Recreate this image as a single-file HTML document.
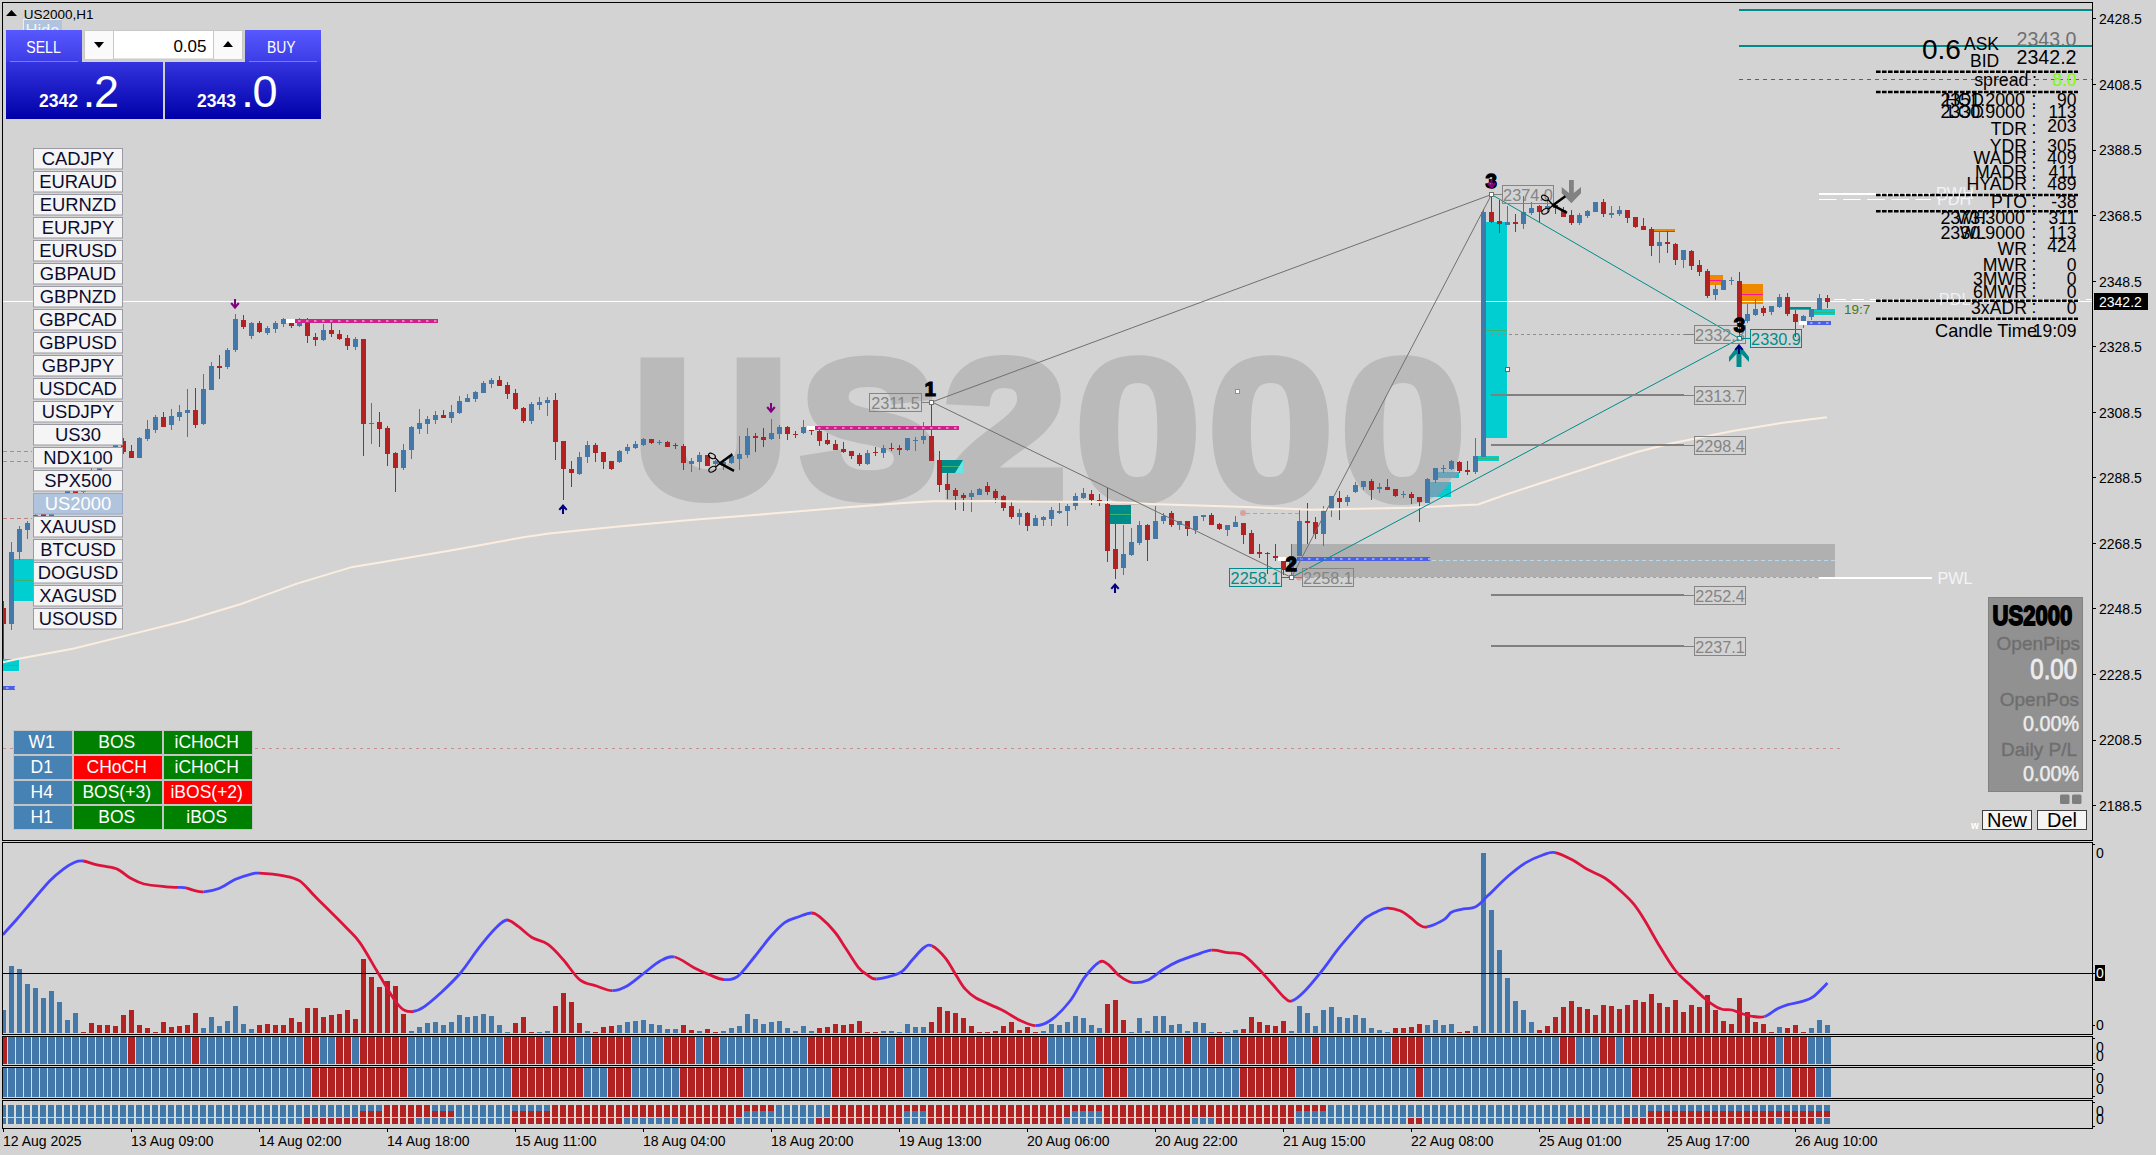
<!DOCTYPE html>
<html lang="en"><head><meta charset="utf-8"><title>US2000,H1</title>
<style>html,body{margin:0;padding:0;background:#d3d3d3;}body{width:2156px;height:1155px;overflow:hidden;}svg{display:block;font-family:'Liberation Sans', sans-serif;}text{white-space:pre;}</style>
</head><body>
<svg width="2156" height="1155" viewBox="0 0 2156 1155">
<defs><linearGradient id="gTop" x1="0" y1="0" x2="0" y2="1"><stop offset="0" stop-color="#5858ff"/><stop offset="1" stop-color="#3c3ce6"/></linearGradient><linearGradient id="gBot" x1="0" y1="0" x2="0" y2="1"><stop offset="0" stop-color="#3434e0"/><stop offset="1" stop-color="#0000a8"/></linearGradient><clipPath id="clipMain"><rect x="3" y="3" width="2089" height="837"/></clipPath><clipPath id="clipInd1"><rect x="3" y="843" width="2089" height="191"/></clipPath></defs>
<rect x="0" y="0" width="2156" height="1155" fill="#d3d3d3"/>
<g clip-path="url(#clipMain)">
<text font-weight="bold" fill="#bababa" stroke="#bababa" stroke-linejoin="miter"><tspan x="634.4" y="495" font-size="191" stroke-width="12" textLength="151.97" lengthAdjust="spacingAndGlyphs">U</tspan><tspan x="801.5" y="495" font-size="191" stroke-width="12" textLength="135.04" lengthAdjust="spacingAndGlyphs">S</tspan><tspan x="945" y="495" font-size="191" stroke-width="12" textLength="119.79" lengthAdjust="spacingAndGlyphs">2</tspan><tspan x="1074" y="499.9" font-size="202.84" stroke-width="6.11" textLength="127.93" lengthAdjust="spacingAndGlyphs">0</tspan><tspan x="1206.7" y="499.9" font-size="202.84" stroke-width="6.11" textLength="127.93" lengthAdjust="spacingAndGlyphs">0</tspan><tspan x="1339.3" y="499.9" font-size="202.84" stroke-width="6.11" textLength="127.93" lengthAdjust="spacingAndGlyphs">0</tspan></text>
<g shape-rendering="crispEdges">
<rect x="1292" y="544" width="543" height="33" fill="#b0b0b0"/>
<rect x="14" y="559" width="20" height="42" fill="#00ced1"/>
<rect x="14" y="580" width="20" height="1" fill="#3cb371"/>
<rect x="3" y="659" width="16" height="12" fill="#00ced1"/>
<rect x="3" y="665" width="16" height="1" fill="#3cb371"/>
<rect x="942" y="460" width="21" height="13" fill="#008b8b"/>
<rect x="942" y="466" width="21" height="1" fill="#3cb371"/>
<rect x="1110" y="505" width="21" height="19" fill="#008b8b"/>
<rect x="1110" y="514" width="21" height="1" fill="#3cb371"/>
<rect x="1430" y="482" width="21" height="15" fill="#00ced1"/>
<rect x="1430" y="489" width="21" height="1" fill="#3cb371"/>
<rect x="1438" y="472" width="21" height="6" fill="#00ced1"/>
<rect x="1438" y="475" width="21" height="1" fill="#3cb371"/>
<rect x="1478" y="456" width="21" height="5" fill="#00ced1"/>
<rect x="1478" y="458" width="21" height="1" fill="#3cb371"/>
<rect x="1486" y="222" width="21" height="216" fill="#00ced1"/>
<rect x="1486" y="330" width="21" height="1" fill="#3cb371"/>
<rect x="1814" y="309" width="21" height="6" fill="#00ced1"/>
<rect x="1814" y="312" width="21" height="1" fill="#3cb371"/>
<rect x="1790" y="307" width="21" height="3" fill="#008b8b"/>
<rect x="1790" y="309" width="21" height="1" fill="#3cb371"/>
<rect x="1654" y="229" width="21" height="2" fill="#ee8800"/>
<rect x="1654" y="231" width="21" height="1" fill="#ff1493"/>
<rect x="1710" y="275" width="13" height="10" fill="#ee8800"/>
<rect x="1710" y="280" width="13" height="1" fill="#ff1493"/>
<rect x="1742" y="284" width="21" height="20" fill="#ee8800"/>
<rect x="1742" y="294" width="21" height="1" fill="#ff1493"/>
</g>
<path d="M955 473L963 460V473Z" fill="#66e6e6"/>
<path d="M1430 482H1451L1437 497H1430Z" fill="#6aa5ba"/>
<path d="M1438 472H1459L1455 478H1438Z" fill="#6aa5ba"/>
<g shape-rendering="crispEdges">
<rect x="3" y="301" width="2089" height="1" fill="#fff"/>
</g>
<line x1="3" y1="748.5" x2="1843" y2="748.5" stroke="#c89090" stroke-width="1" stroke-dasharray="3 4"/>
<line x1="3" y1="451.5" x2="32" y2="451.5" stroke="#c08080" stroke-width="1" stroke-dasharray="4 3"/>
<line x1="3" y1="461.5" x2="32" y2="461.5" stroke="#c08080" stroke-width="1" stroke-dasharray="4 3"/>
<line x1="3" y1="518.5" x2="32" y2="518.5" stroke="#c08080" stroke-width="1" stroke-dasharray="4 3"/>
<line x1="1292" y1="560.5" x2="1835" y2="560.5" stroke="#b8d8f0" stroke-width="1" stroke-dasharray="4 3"/>
<line x1="1299" y1="577.5" x2="1842" y2="577.5" stroke="#c89090" stroke-width="1" stroke-dasharray="3 3"/>
<line x1="1246" y1="513.5" x2="1299" y2="513.5" stroke="#d09898" stroke-width="1" stroke-dasharray="4 3"/>
<circle cx="1243" cy="513" r="3" fill="#d8a0a0"/>
<circle cx="1299" cy="577.5" r="3" fill="#d8a0a0"/>
<line x1="1491" y1="334.5" x2="1694" y2="334.5" stroke="#8c8c8c" stroke-width="1" stroke-dasharray="3 3"/>
<g shape-rendering="crispEdges">
<path d="M11 542v88M19 526v34M27 521v18M35 512v14M51 500v20M59 494v13M67 486v14M83 476v19M91 468v14M99 458v16M107 448v15M115 438v16M139 437v21M147 420v21M155 415v18M171 409v21M179 405v16M187 389v48M203 374v51M211 362v28M227 348v21M235 314v38M251 322v17M267 326v9M275 321v12M283 318v9M299 318v9M323 324v17M355 337v13M371 403v41M403 444v26M411 426v33M419 409v25M427 416v18M435 411v13M451 405v18M459 396v18M467 394v8M475 391v11M483 381v12M491 378v10M531 402v22M539 397v13M547 397v19M579 452v23M587 441v22M619 450v13M627 444v10M635 441v8M643 438v8M659 440v5M691 458v14M699 452v18M715 460v6M723 461v9M731 453v11M739 436v34M747 428v30M771 419v21M779 425v14M803 420v14M867 450v15M883 445v13M907 438v13M915 437v14M923 422v22M971 490v22M979 488v7M1019 509v16M1035 515v11M1043 516v10M1051 507v19M1059 503v11M1067 504v22M1075 493v17M1083 488v11M1123 525v50M1131 528v28M1139 521v24M1155 506v33M1163 513v11M1179 521v9M1195 516v18M1203 515v6M1227 525v11M1235 516v11M1291 544v32M1299 510v46M1323 506v40M1331 496v21M1347 495v11M1355 482v11M1363 481v9M1379 483v10M1403 491v7M1427 478v25M1435 468v15M1443 465v8M1451 460v10M1475 438v36M1483 209v248M1507 206v19M1523 196v33M1531 202v13M1547 201v11M1579 213v12M1587 210v8M1595 202v10M1611 206v12M1619 206v10M1659 231v32M1683 250v18M1715 285v15M1723 280v10M1731 277v8M1747 304v19M1755 299v17M1771 306v9M1779 294v14M1803 315v13M1811 309v11M1819 294v16" stroke="#4279aa" stroke-width="1" fill="none" transform="translate(0.5 0)"/>
<path d="M9 552h5v72h-5zM17 529h5v23h-5zM25 523h5v7h-5zM33 515h5v8h-5zM49 504h5v13h-5zM57 497h5v7h-5zM65 489h5v8h-5zM81 479h5v13h-5zM89 471h5v8h-5zM97 461h5v10h-5zM105 451h5v10h-5zM113 441h5v10h-5zM137 438h5v20h-5zM145 429h5v10h-5zM153 417h5v13h-5zM169 416h5v9h-5zM177 412h5v5h-5zM185 410h5v3h-5zM201 389h5v35h-5zM209 366h5v24h-5zM225 350h5v17h-5zM233 319h5v31h-5zM249 323h5v13h-5zM265 328h5v5h-5zM273 323h5v6h-5zM281 319h5v5h-5zM297 323h5v3h-5zM321 330h5v10h-5zM353 339h5v8h-5zM369 423h5v1h-5zM401 450h5v18h-5zM409 427h5v23h-5zM417 423h5v6h-5zM425 419h5v5h-5zM433 415h5v5h-5zM449 412h5v6h-5zM457 401h5v12h-5zM465 398h5v4h-5zM473 392h5v7h-5zM481 383h5v10h-5zM489 380h5v4h-5zM529 404h5v17h-5zM537 402h5v3h-5zM545 400h5v3h-5zM577 457h5v17h-5zM585 445h5v12h-5zM617 451h5v11h-5zM625 447h5v4h-5zM633 444h5v4h-5zM641 439h5v6h-5zM657 442h5v1h-5zM689 461h5v3h-5zM697 455h5v7h-5zM713 461h5v3h-5zM721 462h5v4h-5zM729 456h5v7h-5zM737 454h5v5h-5zM745 436h5v19h-5zM769 433h5v6h-5zM777 427h5v7h-5zM801 427h5v6h-5zM865 453h5v11h-5zM881 448h5v5h-5zM905 438h5v12h-5zM913 440h5v1h-5zM921 436h5v4h-5zM969 493h5v4h-5zM977 489h5v6h-5zM1017 513h5v4h-5zM1033 518h5v8h-5zM1041 517h5v3h-5zM1049 510h5v9h-5zM1057 511h5v2h-5zM1065 506h5v5h-5zM1073 496h5v10h-5zM1081 493h5v5h-5zM1121 554h5v14h-5zM1129 542h5v13h-5zM1137 525h5v18h-5zM1153 521h5v18h-5zM1161 516h5v5h-5zM1177 521h5v4h-5zM1193 516h5v14h-5zM1201 515h5v2h-5zM1225 525h5v5h-5zM1233 522h5v5h-5zM1289 556h5v14h-5zM1297 521h5v35h-5zM1321 511h5v23h-5zM1329 496h5v13h-5zM1345 497h5v5h-5zM1353 485h5v7h-5zM1361 481h5v6h-5zM1377 487h5v2h-5zM1401 494h5v1h-5zM1425 479h5v24h-5zM1433 468h5v12h-5zM1441 468h5v1h-5zM1449 461h5v8h-5zM1473 456h5v16h-5zM1481 212h5v245h-5zM1505 222h5v3h-5zM1521 212h5v12h-5zM1529 208h5v5h-5zM1545 206h5v3h-5zM1577 215h5v8h-5zM1585 211h5v5h-5zM1593 202h5v10h-5zM1609 213h5v2h-5zM1617 210h5v4h-5zM1657 242h5v4h-5zM1681 250h5v10h-5zM1713 289h5v6h-5zM1721 280h5v10h-5zM1729 280h5v1h-5zM1745 314h5v7h-5zM1753 309h5v6h-5zM1769 306h5v6h-5zM1777 297h5v10h-5zM1801 316h5v5h-5zM1809 309h5v8h-5zM1817 298h5v12h-5z" fill="#4279aa"/>
<path d="M3 601v58M43 510v12M75 485v11M123 438v16M131 445v13M163 412v15M195 388v40M219 355v24M243 315v14M259 321v12M291 323v5M307 318v25M315 333v13M331 323v14M339 330v10M347 335v15M363 339v117M379 412v35M387 426v40M395 452v40M443 410v8M499 376v10M507 382v17M515 389v21M523 407v16M555 393v67M563 441v59M571 461v26M595 443v19M603 452v17M611 461v9M651 439v5M667 441v6M675 443v6M683 444v26M707 455v11M755 433v19M763 428v19M787 426v14M795 431v7M811 430v5M819 430v16M827 433v12M835 440v10M843 442v11M851 451v8M859 453v13M875 447v9M891 443v8M899 445v10M931 403v58M939 451v41M947 473v26M955 488v22M963 493v18M987 482v13M995 489v14M1003 495v16M1011 502v17M1027 512v19M1091 490v15M1099 494v12M1107 488v74M1115 524v55M1147 524v37M1171 511v16M1187 521v15M1211 513v12M1219 523v7M1243 523v21M1251 530v24M1259 544v14M1267 552v22M1275 544v17M1283 561v14M1307 503v41M1315 517v22M1339 491v29M1371 479v21M1387 479v11M1395 489v8M1411 492v12M1419 497v25M1459 461v12M1467 461v14M1491 195v28M1499 200v33M1515 214v18M1539 205v17M1555 202v12M1563 207v10M1571 210v15M1603 199v18M1627 210v13M1635 217v11M1643 218v12M1651 227v29M1667 231v22M1675 243v22M1691 250v20M1699 260v16M1707 269v29M1739 272v68M1763 306v10M1787 293v23M1795 310v27M1827 295v13" stroke="#b22222" stroke-width="1" fill="none" transform="translate(0.5 0)"/>
<path d="M1 608h5v16h-5zM41 513h5v5h-5zM73 488h5v5h-5zM121 441h5v11h-5zM129 451h5v7h-5zM161 417h5v10h-5zM193 410h5v15h-5zM217 366h5v2h-5zM241 320h5v7h-5zM257 323h5v9h-5zM289 323h5v3h-5zM305 323h5v13h-5zM313 337h5v3h-5zM329 330h5v4h-5zM337 334h5v5h-5zM345 338h5v8h-5zM361 339h5v85h-5zM377 422h5v7h-5zM385 428h5v26h-5zM393 453h5v15h-5zM441 415h5v3h-5zM497 380h5v6h-5zM505 385h5v9h-5zM513 393h5v16h-5zM521 408h5v13h-5zM553 400h5v42h-5zM561 441h5v28h-5zM569 469h5v4h-5zM593 445h5v8h-5zM601 452h5v10h-5zM609 461h5v8h-5zM649 439h5v4h-5zM665 442h5v5h-5zM673 445h5v1h-5zM681 446h5v17h-5zM705 455h5v11h-5zM753 436h5v2h-5zM761 437h5v3h-5zM785 427h5v7h-5zM793 434h5v1h-5zM809 430h5v1h-5zM817 431h5v10h-5zM825 440h5v4h-5zM833 444h5v6h-5zM841 449h5v3h-5zM849 451h5v5h-5zM857 455h5v9h-5zM873 452h5v1h-5zM889 448h5v1h-5zM897 448h5v2h-5zM929 436h5v25h-5zM937 460h5v25h-5zM945 484h5v6h-5zM953 490h5v6h-5zM961 495h5v3h-5zM985 486h5v6h-5zM993 491h5v7h-5zM1001 496h5v12h-5zM1009 506h5v11h-5zM1025 513h5v13h-5zM1089 494h5v6h-5zM1097 500h5v1h-5zM1105 504h5v47h-5zM1113 549h5v20h-5zM1145 525h5v15h-5zM1169 513h5v12h-5zM1185 521h5v8h-5zM1209 515h5v10h-5zM1217 524h5v5h-5zM1241 523h5v12h-5zM1249 533h5v21h-5zM1257 552h5v2h-5zM1265 553h5v1h-5zM1273 556h5v2h-5zM1281 561h5v9h-5zM1305 521h5v2h-5zM1313 522h5v12h-5zM1337 498h5v4h-5zM1369 481h5v9h-5zM1385 487h5v3h-5zM1393 489h5v7h-5zM1409 494h5v4h-5zM1417 497h5v5h-5zM1457 462h5v9h-5zM1465 470h5v2h-5zM1489 212h5v10h-5zM1497 221h5v3h-5zM1513 222h5v2h-5zM1537 206h5v6h-5zM1553 205h5v3h-5zM1561 210h5v7h-5zM1569 215h5v8h-5zM1601 202h5v12h-5zM1625 210h5v8h-5zM1633 217h5v10h-5zM1641 226h5v4h-5zM1649 229h5v17h-5zM1665 242h5v2h-5zM1673 244h5v16h-5zM1689 251h5v15h-5zM1697 265h5v7h-5zM1705 271h5v25h-5zM1737 281h5v38h-5zM1761 308h5v5h-5zM1785 297h5v17h-5zM1793 314h5v8h-5zM1825 298h5v4h-5z" fill="#b22222"/>
</g>
<path d="M3 662.4 L18.6 658.7 L74 648.5 L130 634.6 L185.5 620.7 L241 604 L297 583.6 L352.5 566.9 L380 562.4 L452 550.3 L525 537 L549 533.4 L621 526.2 L693.5 519.7 L766 514.1 L838 508.1 L870 505.5 L900 503.2 L932 501.3 L990 501 L1020 501.6 L1105 502 L1130 502.8 L1150 503.9 L1247 507.1 L1312 509.7 L1410 507.8 L1478 504.5 L1507 494.2 L1572 473 L1637 452 L1669.5 443.8 L1734 430.8 L1783 422.7 L1827 417.2" fill="none" stroke="#fbeee0" stroke-width="2" stroke-linejoin="round"/>
<rect x="286" y="319" width="9" height="4" fill="#fff"/>
<rect x="295" y="319" width="143" height="4" fill="#d0208c" shape-rendering="crispEdges"/>
<line x1="298" y1="321" x2="438" y2="321" stroke="#f0a0d0" stroke-width="1.4" stroke-dasharray="2.5 5.5"/>
<rect x="807" y="426" width="8" height="4" fill="#fff"/>
<rect x="815" y="426" width="144" height="4" fill="#d0208c" shape-rendering="crispEdges"/>
<line x1="818" y1="428" x2="959" y2="428" stroke="#f0a0d0" stroke-width="1.4" stroke-dasharray="2.5 5.5"/>
<rect x="1278" y="557" width="8" height="4" fill="#fff"/>
<rect x="1297" y="557" width="133" height="4" fill="#4a60e8" shape-rendering="crispEdges"/>
<line x1="1300" y1="559" x2="1430" y2="559" stroke="#b0b8f8" stroke-width="1.4" stroke-dasharray="2.5 5.5"/>
<rect x="1799" y="321" width="8" height="4" fill="#fff"/>
<rect x="1807" y="321" width="24" height="4" fill="#4a60e8" shape-rendering="crispEdges"/>
<line x1="1810" y1="323" x2="1831" y2="323" stroke="#b0b8f8" stroke-width="1.4" stroke-dasharray="2.5 5.5"/>
<rect x="3" y="686" width="12" height="4" fill="#4a60e8" shape-rendering="crispEdges"/>
<line x1="6" y1="688" x2="15" y2="688" stroke="#b0b8f8" stroke-width="1.4" stroke-dasharray="2.5 5.5"/>
<line x1="932" y1="402" x2="1491.5" y2="194.5" stroke="#707070" stroke-width="1"/>
<line x1="932" y1="402" x2="1291.5" y2="577.5" stroke="#707070" stroke-width="1"/>
<line x1="1291.5" y1="577.5" x2="1491.5" y2="194.5" stroke="#707070" stroke-width="1"/>
<line x1="1291.5" y1="577.5" x2="1739.5" y2="338.6" stroke="#008b8b" stroke-width="1"/>
<line x1="1491.5" y1="194.5" x2="1739.5" y2="338.6" stroke="#008b8b" stroke-width="1"/>
<rect x="929" y="400" width="5" height="5" fill="#707070" shape-rendering="crispEdges"/>
<rect x="930" y="401" width="3" height="3" fill="#fff" shape-rendering="crispEdges"/>
<rect x="1289" y="575" width="5" height="5" fill="#707070" shape-rendering="crispEdges"/>
<rect x="1290" y="576" width="3" height="3" fill="#fff" shape-rendering="crispEdges"/>
<rect x="1489" y="192" width="5" height="5" fill="#707070" shape-rendering="crispEdges"/>
<rect x="1490" y="193" width="3" height="3" fill="#fff" shape-rendering="crispEdges"/>
<rect x="1737" y="336" width="5" height="5" fill="#008b8b" shape-rendering="crispEdges"/>
<rect x="1738" y="337" width="3" height="3" fill="#fff" shape-rendering="crispEdges"/>
<rect x="1505" y="367" width="5" height="5" fill="#008b8b" shape-rendering="crispEdges"/>
<rect x="1506" y="368" width="3" height="3" fill="#fff" shape-rendering="crispEdges"/>
<rect x="1235" y="389" width="5" height="5" fill="#909090" shape-rendering="crispEdges"/>
<rect x="1236" y="390" width="3" height="3" fill="#fff" shape-rendering="crispEdges"/>
<rect x="1491" y="394" width="193" height="2" fill="#808080" shape-rendering="crispEdges"/>
<rect x="1684" y="395" width="10" height="1" fill="#808080" shape-rendering="crispEdges"/>
<rect x="1694.5" y="386.5" width="51" height="18" fill="none" stroke="#858585" stroke-width="1"/>
<text x="1720" y="401.8" font-size="16.2" fill="#858585" text-anchor="middle">2313.7</text>
<rect x="1491" y="444" width="193" height="2" fill="#808080" shape-rendering="crispEdges"/>
<rect x="1684" y="445" width="10" height="1" fill="#808080" shape-rendering="crispEdges"/>
<rect x="1694.5" y="436.5" width="51" height="18" fill="none" stroke="#858585" stroke-width="1"/>
<text x="1720" y="451.8" font-size="16.2" fill="#858585" text-anchor="middle">2298.4</text>
<rect x="1491" y="594" width="193" height="2" fill="#808080" shape-rendering="crispEdges"/>
<rect x="1684" y="595" width="10" height="1" fill="#808080" shape-rendering="crispEdges"/>
<rect x="1694.5" y="586.5" width="51" height="18" fill="none" stroke="#858585" stroke-width="1"/>
<text x="1720" y="601.8" font-size="16.2" fill="#858585" text-anchor="middle">2252.4</text>
<rect x="1491" y="645" width="193" height="2" fill="#808080" shape-rendering="crispEdges"/>
<rect x="1684" y="646" width="10" height="1" fill="#808080" shape-rendering="crispEdges"/>
<rect x="1694.5" y="637.5" width="51" height="18" fill="none" stroke="#858585" stroke-width="1"/>
<text x="1720" y="652.8" font-size="16.2" fill="#858585" text-anchor="middle">2237.1</text>
<rect x="922" y="402" width="7" height="1" fill="#808080"/>
<rect x="869.5" y="393.5" width="52" height="18" fill="none" stroke="#858585" stroke-width="1"/>
<text x="895.5" y="408.8" font-size="16.3" fill="#858585" text-anchor="middle">2311.5</text>
<rect x="1229.5" y="568.5" width="52" height="18" fill="none" stroke="#008b8b" stroke-width="1"/>
<text x="1255.5" y="583.8" font-size="16.3" fill="#008b8b" text-anchor="middle">2258.1</text>
<rect x="1282" y="577" width="8" height="1" fill="#008b8b"/>
<rect x="1294" y="577" width="8" height="1" fill="#808080"/>
<rect x="1302.5" y="568.5" width="51" height="18" fill="none" stroke="#858585" stroke-width="1"/>
<text x="1328" y="583.8" font-size="16.3" fill="#858585" text-anchor="middle">2258.1</text>
<rect x="1494" y="194" width="8" height="1" fill="#808080"/>
<rect x="1502.5" y="185.5" width="51" height="18" fill="none" stroke="#858585" stroke-width="1"/>
<text x="1528" y="200.8" font-size="16.3" fill="#858585" text-anchor="middle">2374.0</text>
<rect x="1684" y="334" width="10" height="1" fill="#808080"/>
<rect x="1694.5" y="325.5" width="51" height="18" fill="none" stroke="#858585" stroke-width="1"/>
<text x="1720" y="340.8" font-size="16.3" fill="#858585" text-anchor="middle">2332.3</text>
<rect x="1750.5" y="329.5" width="51" height="18" fill="none" stroke="#008b8b" stroke-width="1"/>
<text x="1776" y="344.8" font-size="16.3" fill="#008b8b" text-anchor="middle">2330.9</text>
<rect x="1742" y="338" width="8" height="1" fill="#008b8b"/>
<text x="930.3" y="395.8" font-size="20.5" fill="#000" text-anchor="middle" font-weight="bold" stroke="#000" stroke-width="1.1">1</text>
<text x="1291.2" y="570.7" font-size="20.5" fill="#000" text-anchor="middle" font-weight="bold" stroke="#000" stroke-width="1.4">2</text>
<text x="1491.3" y="187.6" font-size="20.5" fill="#000" text-anchor="middle" font-weight="bold" stroke="#000" stroke-width="1.4">3</text>
<text x="1739.5" y="331.6" font-size="20.5" fill="#000" text-anchor="middle" font-weight="bold" stroke="#000" stroke-width="1.4">3</text>
<path d="M235 299V307.5 M231.2 303L235 307.7L238.8 303" fill="none" stroke="#800080" stroke-width="2.05" stroke-linecap="butt" stroke-linejoin="miter"/>
<path d="M771 403V411.5 M767.2 407L771 411.7L774.8 407" fill="none" stroke="#800080" stroke-width="2.05" stroke-linecap="butt" stroke-linejoin="miter"/>
<path d="M1491.5 179V187.5 M1487.7 183L1491.5 187.7L1495.3 183" fill="none" stroke="#800080" stroke-width="2.05" stroke-linecap="butt" stroke-linejoin="miter"/>
<path d="M563 505.5V514 M559.3 509.9L563 505.6L566.7 509.9" fill="none" stroke="#000080" stroke-width="2.05" stroke-linecap="butt" stroke-linejoin="miter"/>
<path d="M1115 584.5V593 M1111.3 588.9L1115 584.6L1118.7 588.9" fill="none" stroke="#000080" stroke-width="2.05" stroke-linecap="butt" stroke-linejoin="miter"/>
<path d="M1561.700 186.900L1569 192.900V180H1573.800V192.900L1581 186.900V193.300L1571.300 203.300L1561.700 193.300Z" fill="#828282"/>
<path d="M1739 344l10 13v5l-7.500 -8v13h-5v-13l-7.500 8v-5z" fill="#008b8b"/>
<path d="M1739 345.5V354 M1735.3 349.9L1739 345.6L1742.7 349.9" fill="none" stroke="#000080" stroke-width="2.05" stroke-linecap="butt" stroke-linejoin="miter"/>
<g transform="translate(708 453)" fill="none" stroke="#000" stroke-linecap="butt">
<ellipse cx="3.9" cy="2.9" rx="3.7" ry="2.3" stroke-width="1.1" transform="rotate(28 3.9 2.9)"/>
<ellipse cx="4.4" cy="16.3" rx="3.9" ry="2.4" stroke-width="1.1" transform="rotate(-32 4.4 16.3)"/>
<path d="M7 4.6L12.200 10.300M7.600 14.200L12.200 10" stroke-width="1.3"/>
<path d="M11.300 9.800L26 17.900" stroke-width="2.5"/>
<path d="M11.300 10.700L24.400 1.200" stroke-width="2.5"/>
</g>
<g transform="translate(1541 195)" fill="none" stroke="#000" stroke-linecap="butt">
<ellipse cx="3.9" cy="2.9" rx="3.7" ry="2.3" stroke-width="1.1" transform="rotate(28 3.9 2.9)"/>
<ellipse cx="4.4" cy="16.3" rx="3.9" ry="2.4" stroke-width="1.1" transform="rotate(-32 4.4 16.3)"/>
<path d="M7 4.6L12.200 10.300M7.600 14.200L12.200 10" stroke-width="1.3"/>
<path d="M11.300 9.800L26 17.900" stroke-width="2.5"/>
<path d="M11.300 10.700L24.400 1.200" stroke-width="2.5"/>
</g>
<text x="1844" y="314" font-size="13.5" fill="#3f7a12">19:7</text>
</g>
<g shape-rendering="crispEdges">
<g clip-path="url(#clipInd1)">
<rect x="3" y="1010" width="3" height="23" fill="#4279aa"/>
<rect x="9" y="966" width="5" height="67" fill="#4279aa"/>
<rect x="17" y="969" width="5" height="64" fill="#4279aa"/>
<rect x="25" y="984" width="5" height="49" fill="#4279aa"/>
<rect x="33" y="988" width="5" height="45" fill="#4279aa"/>
<rect x="41" y="998" width="5" height="35" fill="#4279aa"/>
<rect x="49" y="991" width="5" height="42" fill="#4279aa"/>
<rect x="57" y="1002" width="5" height="31" fill="#4279aa"/>
<rect x="65" y="1020" width="5" height="13" fill="#4279aa"/>
<rect x="73" y="1013" width="5" height="20" fill="#4279aa"/>
<rect x="81" y="1032" width="5" height="1" fill="#b22222"/>
<rect x="89" y="1023" width="5" height="10" fill="#b22222"/>
<rect x="97" y="1025" width="5" height="8" fill="#b22222"/>
<rect x="105" y="1025" width="5" height="8" fill="#b22222"/>
<rect x="113" y="1026" width="5" height="7" fill="#b22222"/>
<rect x="121" y="1015" width="5" height="18" fill="#b22222"/>
<rect x="129" y="1010" width="5" height="23" fill="#b22222"/>
<rect x="137" y="1025" width="5" height="8" fill="#b22222"/>
<rect x="145" y="1028" width="5" height="5" fill="#b22222"/>
<rect x="153" y="1032" width="5" height="1" fill="#b22222"/>
<rect x="161" y="1022" width="5" height="11" fill="#b22222"/>
<rect x="169" y="1027" width="5" height="6" fill="#b22222"/>
<rect x="177" y="1026" width="5" height="7" fill="#b22222"/>
<rect x="185" y="1025" width="5" height="8" fill="#b22222"/>
<rect x="193" y="1013" width="5" height="20" fill="#b22222"/>
<rect x="201" y="1028" width="5" height="5" fill="#4279aa"/>
<rect x="209" y="1017" width="5" height="16" fill="#4279aa"/>
<rect x="217" y="1026" width="5" height="7" fill="#4279aa"/>
<rect x="225" y="1021" width="5" height="12" fill="#4279aa"/>
<rect x="233" y="1006" width="5" height="27" fill="#4279aa"/>
<rect x="241" y="1024" width="5" height="9" fill="#4279aa"/>
<rect x="249" y="1029" width="5" height="4" fill="#4279aa"/>
<rect x="257" y="1025" width="5" height="8" fill="#b22222"/>
<rect x="265" y="1024" width="5" height="9" fill="#b22222"/>
<rect x="273" y="1025" width="5" height="8" fill="#b22222"/>
<rect x="281" y="1025" width="5" height="8" fill="#b22222"/>
<rect x="289" y="1018" width="5" height="15" fill="#b22222"/>
<rect x="297" y="1022" width="5" height="11" fill="#b22222"/>
<rect x="305" y="1008" width="5" height="25" fill="#b22222"/>
<rect x="313" y="1008" width="5" height="25" fill="#b22222"/>
<rect x="321" y="1017" width="5" height="16" fill="#b22222"/>
<rect x="329" y="1015" width="5" height="18" fill="#b22222"/>
<rect x="337" y="1014" width="5" height="19" fill="#b22222"/>
<rect x="345" y="1010" width="5" height="23" fill="#b22222"/>
<rect x="353" y="1019" width="5" height="14" fill="#b22222"/>
<rect x="361" y="959" width="5" height="74" fill="#b22222"/>
<rect x="369" y="977" width="5" height="56" fill="#b22222"/>
<rect x="377" y="987" width="5" height="46" fill="#b22222"/>
<rect x="385" y="981" width="5" height="52" fill="#b22222"/>
<rect x="393" y="986" width="5" height="47" fill="#b22222"/>
<rect x="401" y="1014" width="5" height="19" fill="#b22222"/>
<rect x="409" y="1031" width="5" height="2" fill="#4279aa"/>
<rect x="417" y="1027" width="5" height="6" fill="#4279aa"/>
<rect x="425" y="1023" width="5" height="10" fill="#4279aa"/>
<rect x="433" y="1022" width="5" height="11" fill="#4279aa"/>
<rect x="441" y="1025" width="5" height="8" fill="#4279aa"/>
<rect x="449" y="1022" width="5" height="11" fill="#4279aa"/>
<rect x="457" y="1015" width="5" height="18" fill="#4279aa"/>
<rect x="465" y="1017" width="5" height="16" fill="#4279aa"/>
<rect x="473" y="1016" width="5" height="17" fill="#4279aa"/>
<rect x="481" y="1014" width="5" height="19" fill="#4279aa"/>
<rect x="489" y="1016" width="5" height="17" fill="#4279aa"/>
<rect x="497" y="1025" width="5" height="8" fill="#4279aa"/>
<rect x="505" y="1032" width="5" height="1" fill="#4279aa"/>
<rect x="513" y="1023" width="5" height="10" fill="#b22222"/>
<rect x="521" y="1017" width="5" height="16" fill="#b22222"/>
<rect x="529" y="1032" width="5" height="1" fill="#b22222"/>
<rect x="537" y="1032" width="5" height="1" fill="#4279aa"/>
<rect x="545" y="1031" width="5" height="2" fill="#4279aa"/>
<rect x="553" y="1006" width="5" height="27" fill="#b22222"/>
<rect x="561" y="993" width="5" height="40" fill="#b22222"/>
<rect x="569" y="1002" width="5" height="31" fill="#b22222"/>
<rect x="577" y="1023" width="5" height="10" fill="#b22222"/>
<rect x="585" y="1031" width="5" height="2" fill="#4279aa"/>
<rect x="593" y="1032" width="5" height="1" fill="#b22222"/>
<rect x="601" y="1027" width="5" height="6" fill="#b22222"/>
<rect x="609" y="1026" width="5" height="7" fill="#b22222"/>
<rect x="617" y="1025" width="5" height="8" fill="#4279aa"/>
<rect x="625" y="1022" width="5" height="11" fill="#4279aa"/>
<rect x="633" y="1021" width="5" height="12" fill="#4279aa"/>
<rect x="641" y="1020" width="5" height="13" fill="#4279aa"/>
<rect x="649" y="1024" width="5" height="9" fill="#4279aa"/>
<rect x="657" y="1025" width="5" height="8" fill="#4279aa"/>
<rect x="665" y="1029" width="5" height="4" fill="#4279aa"/>
<rect x="673" y="1029" width="5" height="4" fill="#4279aa"/>
<rect x="681" y="1025" width="5" height="8" fill="#b22222"/>
<rect x="689" y="1030" width="5" height="3" fill="#b22222"/>
<rect x="697" y="1031" width="5" height="2" fill="#4279aa"/>
<rect x="705" y="1029" width="5" height="4" fill="#b22222"/>
<rect x="713" y="1032" width="5" height="1" fill="#b22222"/>
<rect x="721" y="1031" width="5" height="2" fill="#4279aa"/>
<rect x="729" y="1028" width="5" height="5" fill="#4279aa"/>
<rect x="737" y="1026" width="5" height="7" fill="#4279aa"/>
<rect x="745" y="1014" width="5" height="19" fill="#4279aa"/>
<rect x="753" y="1019" width="5" height="14" fill="#4279aa"/>
<rect x="761" y="1024" width="5" height="9" fill="#4279aa"/>
<rect x="769" y="1022" width="5" height="11" fill="#4279aa"/>
<rect x="777" y="1021" width="5" height="12" fill="#4279aa"/>
<rect x="785" y="1028" width="5" height="5" fill="#4279aa"/>
<rect x="793" y="1031" width="5" height="2" fill="#4279aa"/>
<rect x="801" y="1026" width="5" height="7" fill="#4279aa"/>
<rect x="809" y="1031" width="5" height="2" fill="#4279aa"/>
<rect x="817" y="1028" width="5" height="5" fill="#b22222"/>
<rect x="825" y="1027" width="5" height="6" fill="#b22222"/>
<rect x="833" y="1024" width="5" height="9" fill="#b22222"/>
<rect x="841" y="1025" width="5" height="8" fill="#b22222"/>
<rect x="849" y="1024" width="5" height="9" fill="#b22222"/>
<rect x="857" y="1021" width="5" height="12" fill="#b22222"/>
<rect x="865" y="1032" width="5" height="1" fill="#b22222"/>
<rect x="873" y="1032" width="5" height="1" fill="#b22222"/>
<rect x="881" y="1031" width="5" height="2" fill="#4279aa"/>
<rect x="889" y="1031" width="5" height="2" fill="#4279aa"/>
<rect x="897" y="1032" width="5" height="1" fill="#4279aa"/>
<rect x="905" y="1024" width="5" height="9" fill="#4279aa"/>
<rect x="913" y="1027" width="5" height="6" fill="#4279aa"/>
<rect x="921" y="1027" width="5" height="6" fill="#4279aa"/>
<rect x="929" y="1022" width="5" height="11" fill="#b22222"/>
<rect x="937" y="1007" width="5" height="26" fill="#b22222"/>
<rect x="945" y="1011" width="5" height="22" fill="#b22222"/>
<rect x="953" y="1013" width="5" height="20" fill="#b22222"/>
<rect x="961" y="1018" width="5" height="15" fill="#b22222"/>
<rect x="969" y="1026" width="5" height="7" fill="#b22222"/>
<rect x="977" y="1032" width="5" height="1" fill="#b22222"/>
<rect x="985" y="1032" width="5" height="1" fill="#b22222"/>
<rect x="993" y="1031" width="5" height="2" fill="#b22222"/>
<rect x="1001" y="1026" width="5" height="7" fill="#b22222"/>
<rect x="1009" y="1022" width="5" height="11" fill="#b22222"/>
<rect x="1017" y="1030" width="5" height="3" fill="#b22222"/>
<rect x="1025" y="1027" width="5" height="6" fill="#b22222"/>
<rect x="1033" y="1032" width="5" height="1" fill="#b22222"/>
<rect x="1041" y="1031" width="5" height="2" fill="#4279aa"/>
<rect x="1049" y="1024" width="5" height="9" fill="#4279aa"/>
<rect x="1057" y="1025" width="5" height="8" fill="#4279aa"/>
<rect x="1065" y="1022" width="5" height="11" fill="#4279aa"/>
<rect x="1073" y="1016" width="5" height="17" fill="#4279aa"/>
<rect x="1081" y="1018" width="5" height="15" fill="#4279aa"/>
<rect x="1089" y="1025" width="5" height="8" fill="#4279aa"/>
<rect x="1097" y="1028" width="5" height="5" fill="#4279aa"/>
<rect x="1105" y="1004" width="5" height="29" fill="#b22222"/>
<rect x="1113" y="1000" width="5" height="33" fill="#b22222"/>
<rect x="1121" y="1020" width="5" height="13" fill="#b22222"/>
<rect x="1129" y="1032" width="5" height="1" fill="#4279aa"/>
<rect x="1137" y="1018" width="5" height="15" fill="#4279aa"/>
<rect x="1145" y="1031" width="5" height="2" fill="#4279aa"/>
<rect x="1153" y="1016" width="5" height="17" fill="#4279aa"/>
<rect x="1161" y="1016" width="5" height="17" fill="#4279aa"/>
<rect x="1169" y="1025" width="5" height="8" fill="#4279aa"/>
<rect x="1177" y="1024" width="5" height="9" fill="#4279aa"/>
<rect x="1185" y="1031" width="5" height="2" fill="#4279aa"/>
<rect x="1193" y="1022" width="5" height="11" fill="#4279aa"/>
<rect x="1201" y="1023" width="5" height="10" fill="#4279aa"/>
<rect x="1209" y="1032" width="5" height="1" fill="#4279aa"/>
<rect x="1217" y="1032" width="5" height="1" fill="#b22222"/>
<rect x="1225" y="1032" width="5" height="1" fill="#4279aa"/>
<rect x="1233" y="1030" width="5" height="3" fill="#4279aa"/>
<rect x="1241" y="1029" width="5" height="4" fill="#b22222"/>
<rect x="1249" y="1017" width="5" height="16" fill="#b22222"/>
<rect x="1257" y="1022" width="5" height="11" fill="#b22222"/>
<rect x="1265" y="1025" width="5" height="8" fill="#b22222"/>
<rect x="1273" y="1026" width="5" height="7" fill="#b22222"/>
<rect x="1281" y="1021" width="5" height="12" fill="#b22222"/>
<rect x="1289" y="1031" width="5" height="2" fill="#4279aa"/>
<rect x="1297" y="1006" width="5" height="27" fill="#4279aa"/>
<rect x="1305" y="1013" width="5" height="20" fill="#4279aa"/>
<rect x="1313" y="1026" width="5" height="7" fill="#4279aa"/>
<rect x="1321" y="1010" width="5" height="23" fill="#4279aa"/>
<rect x="1329" y="1007" width="5" height="26" fill="#4279aa"/>
<rect x="1337" y="1017" width="5" height="16" fill="#4279aa"/>
<rect x="1345" y="1018" width="5" height="15" fill="#4279aa"/>
<rect x="1353" y="1015" width="5" height="18" fill="#4279aa"/>
<rect x="1361" y="1018" width="5" height="15" fill="#4279aa"/>
<rect x="1369" y="1028" width="5" height="5" fill="#4279aa"/>
<rect x="1377" y="1030" width="5" height="3" fill="#4279aa"/>
<rect x="1385" y="1032" width="5" height="1" fill="#4279aa"/>
<rect x="1393" y="1028" width="5" height="5" fill="#b22222"/>
<rect x="1401" y="1028" width="5" height="5" fill="#b22222"/>
<rect x="1409" y="1027" width="5" height="6" fill="#b22222"/>
<rect x="1417" y="1024" width="5" height="9" fill="#b22222"/>
<rect x="1425" y="1025" width="5" height="8" fill="#4279aa"/>
<rect x="1433" y="1020" width="5" height="13" fill="#4279aa"/>
<rect x="1441" y="1025" width="5" height="8" fill="#4279aa"/>
<rect x="1449" y="1024" width="5" height="9" fill="#4279aa"/>
<rect x="1457" y="1032" width="5" height="1" fill="#b22222"/>
<rect x="1465" y="1031" width="5" height="2" fill="#b22222"/>
<rect x="1473" y="1026" width="5" height="7" fill="#4279aa"/>
<rect x="1481" y="853" width="5" height="180" fill="#4279aa"/>
<rect x="1489" y="910" width="5" height="123" fill="#4279aa"/>
<rect x="1497" y="950" width="5" height="83" fill="#4279aa"/>
<rect x="1505" y="978" width="5" height="55" fill="#4279aa"/>
<rect x="1513" y="1001" width="5" height="32" fill="#4279aa"/>
<rect x="1521" y="1010" width="5" height="23" fill="#4279aa"/>
<rect x="1529" y="1022" width="5" height="11" fill="#4279aa"/>
<rect x="1537" y="1030" width="5" height="3" fill="#b22222"/>
<rect x="1545" y="1026" width="5" height="7" fill="#b22222"/>
<rect x="1553" y="1017" width="5" height="16" fill="#b22222"/>
<rect x="1561" y="1007" width="5" height="26" fill="#b22222"/>
<rect x="1569" y="1001" width="5" height="32" fill="#b22222"/>
<rect x="1577" y="1007" width="5" height="26" fill="#b22222"/>
<rect x="1585" y="1009" width="5" height="24" fill="#b22222"/>
<rect x="1593" y="1015" width="5" height="18" fill="#b22222"/>
<rect x="1601" y="1005" width="5" height="28" fill="#b22222"/>
<rect x="1609" y="1006" width="5" height="27" fill="#b22222"/>
<rect x="1617" y="1009" width="5" height="24" fill="#b22222"/>
<rect x="1625" y="1005" width="5" height="28" fill="#b22222"/>
<rect x="1633" y="1000" width="5" height="33" fill="#b22222"/>
<rect x="1641" y="1002" width="5" height="31" fill="#b22222"/>
<rect x="1649" y="994" width="5" height="39" fill="#b22222"/>
<rect x="1657" y="1003" width="5" height="30" fill="#b22222"/>
<rect x="1665" y="1007" width="5" height="26" fill="#b22222"/>
<rect x="1673" y="1000" width="5" height="33" fill="#b22222"/>
<rect x="1681" y="1012" width="5" height="21" fill="#b22222"/>
<rect x="1689" y="1005" width="5" height="28" fill="#b22222"/>
<rect x="1697" y="1007" width="5" height="26" fill="#b22222"/>
<rect x="1705" y="995" width="5" height="38" fill="#b22222"/>
<rect x="1713" y="1010" width="5" height="23" fill="#b22222"/>
<rect x="1721" y="1021" width="5" height="12" fill="#b22222"/>
<rect x="1729" y="1024" width="5" height="9" fill="#b22222"/>
<rect x="1737" y="998" width="5" height="35" fill="#b22222"/>
<rect x="1745" y="1012" width="5" height="21" fill="#b22222"/>
<rect x="1753" y="1022" width="5" height="11" fill="#b22222"/>
<rect x="1761" y="1024" width="5" height="9" fill="#b22222"/>
<rect x="1769" y="1032" width="5" height="1" fill="#b22222"/>
<rect x="1777" y="1027" width="5" height="6" fill="#4279aa"/>
<rect x="1785" y="1028" width="5" height="5" fill="#b22222"/>
<rect x="1793" y="1025" width="5" height="8" fill="#b22222"/>
<rect x="1801" y="1032" width="5" height="1" fill="#b22222"/>
<rect x="1809" y="1028" width="5" height="5" fill="#4279aa"/>
<rect x="1817" y="1020" width="5" height="13" fill="#4279aa"/>
<rect x="1825" y="1025" width="5" height="8" fill="#4279aa"/>
</g>
<rect x="3" y="973" width="2089" height="1" fill="#000"/>
<rect x="3" y="1037" width="4" height="27" fill="#b22222"/>
<rect x="8" y="1037" width="119" height="27" fill="#4279aa"/>
<rect x="128" y="1037" width="7" height="27" fill="#b22222"/>
<rect x="136" y="1037" width="55" height="27" fill="#4279aa"/>
<rect x="192" y="1037" width="7" height="27" fill="#b22222"/>
<rect x="200" y="1037" width="103" height="27" fill="#4279aa"/>
<rect x="304" y="1037" width="15" height="27" fill="#b22222"/>
<rect x="320" y="1037" width="15" height="27" fill="#4279aa"/>
<rect x="336" y="1037" width="15" height="27" fill="#b22222"/>
<rect x="352" y="1037" width="7" height="27" fill="#4279aa"/>
<rect x="360" y="1037" width="47" height="27" fill="#b22222"/>
<rect x="408" y="1037" width="95" height="27" fill="#4279aa"/>
<rect x="504" y="1037" width="39" height="27" fill="#b22222"/>
<rect x="544" y="1037" width="7" height="27" fill="#4279aa"/>
<rect x="552" y="1037" width="23" height="27" fill="#b22222"/>
<rect x="576" y="1037" width="15" height="27" fill="#4279aa"/>
<rect x="592" y="1037" width="39" height="27" fill="#b22222"/>
<rect x="632" y="1037" width="31" height="27" fill="#4279aa"/>
<rect x="664" y="1037" width="31" height="27" fill="#b22222"/>
<rect x="696" y="1037" width="7" height="27" fill="#4279aa"/>
<rect x="704" y="1037" width="15" height="27" fill="#b22222"/>
<rect x="720" y="1037" width="87" height="27" fill="#4279aa"/>
<rect x="808" y="1037" width="71" height="27" fill="#b22222"/>
<rect x="880" y="1037" width="15" height="27" fill="#4279aa"/>
<rect x="896" y="1037" width="7" height="27" fill="#b22222"/>
<rect x="904" y="1037" width="23" height="27" fill="#4279aa"/>
<rect x="928" y="1037" width="119" height="27" fill="#b22222"/>
<rect x="1048" y="1037" width="47" height="27" fill="#4279aa"/>
<rect x="1096" y="1037" width="31" height="27" fill="#b22222"/>
<rect x="1128" y="1037" width="55" height="27" fill="#4279aa"/>
<rect x="1184" y="1037" width="7" height="27" fill="#b22222"/>
<rect x="1192" y="1037" width="15" height="27" fill="#4279aa"/>
<rect x="1208" y="1037" width="15" height="27" fill="#b22222"/>
<rect x="1224" y="1037" width="15" height="27" fill="#4279aa"/>
<rect x="1240" y="1037" width="47" height="27" fill="#b22222"/>
<rect x="1288" y="1037" width="23" height="27" fill="#4279aa"/>
<rect x="1312" y="1037" width="7" height="27" fill="#b22222"/>
<rect x="1320" y="1037" width="71" height="27" fill="#4279aa"/>
<rect x="1392" y="1037" width="31" height="27" fill="#b22222"/>
<rect x="1424" y="1037" width="135" height="27" fill="#4279aa"/>
<rect x="1560" y="1037" width="15" height="27" fill="#b22222"/>
<rect x="1576" y="1037" width="23" height="27" fill="#4279aa"/>
<rect x="1600" y="1037" width="15" height="27" fill="#b22222"/>
<rect x="1616" y="1037" width="7" height="27" fill="#4279aa"/>
<rect x="1624" y="1037" width="151" height="27" fill="#b22222"/>
<rect x="1776" y="1037" width="7" height="27" fill="#4279aa"/>
<rect x="1784" y="1037" width="23" height="27" fill="#b22222"/>
<rect x="1808" y="1037" width="23" height="27" fill="#4279aa"/>
<path d="M7 1037v27M15 1037v27M23 1037v27M31 1037v27M39 1037v27M47 1037v27M55 1037v27M63 1037v27M71 1037v27M79 1037v27M87 1037v27M95 1037v27M103 1037v27M111 1037v27M119 1037v27M127 1037v27M135 1037v27M143 1037v27M151 1037v27M159 1037v27M167 1037v27M175 1037v27M183 1037v27M191 1037v27M199 1037v27M207 1037v27M215 1037v27M223 1037v27M231 1037v27M239 1037v27M247 1037v27M255 1037v27M263 1037v27M271 1037v27M279 1037v27M287 1037v27M295 1037v27M303 1037v27M311 1037v27M319 1037v27M327 1037v27M335 1037v27M343 1037v27M351 1037v27M359 1037v27M367 1037v27M375 1037v27M383 1037v27M391 1037v27M399 1037v27M407 1037v27M415 1037v27M423 1037v27M431 1037v27M439 1037v27M447 1037v27M455 1037v27M463 1037v27M471 1037v27M479 1037v27M487 1037v27M495 1037v27M503 1037v27M511 1037v27M519 1037v27M527 1037v27M535 1037v27M543 1037v27M551 1037v27M559 1037v27M567 1037v27M575 1037v27M583 1037v27M591 1037v27M599 1037v27M607 1037v27M615 1037v27M623 1037v27M631 1037v27M639 1037v27M647 1037v27M655 1037v27M663 1037v27M671 1037v27M679 1037v27M687 1037v27M695 1037v27M703 1037v27M711 1037v27M719 1037v27M727 1037v27M735 1037v27M743 1037v27M751 1037v27M759 1037v27M767 1037v27M775 1037v27M783 1037v27M791 1037v27M799 1037v27M807 1037v27M815 1037v27M823 1037v27M831 1037v27M839 1037v27M847 1037v27M855 1037v27M863 1037v27M871 1037v27M879 1037v27M887 1037v27M895 1037v27M903 1037v27M911 1037v27M919 1037v27M927 1037v27M935 1037v27M943 1037v27M951 1037v27M959 1037v27M967 1037v27M975 1037v27M983 1037v27M991 1037v27M999 1037v27M1007 1037v27M1015 1037v27M1023 1037v27M1031 1037v27M1039 1037v27M1047 1037v27M1055 1037v27M1063 1037v27M1071 1037v27M1079 1037v27M1087 1037v27M1095 1037v27M1103 1037v27M1111 1037v27M1119 1037v27M1127 1037v27M1135 1037v27M1143 1037v27M1151 1037v27M1159 1037v27M1167 1037v27M1175 1037v27M1183 1037v27M1191 1037v27M1199 1037v27M1207 1037v27M1215 1037v27M1223 1037v27M1231 1037v27M1239 1037v27M1247 1037v27M1255 1037v27M1263 1037v27M1271 1037v27M1279 1037v27M1287 1037v27M1295 1037v27M1303 1037v27M1311 1037v27M1319 1037v27M1327 1037v27M1335 1037v27M1343 1037v27M1351 1037v27M1359 1037v27M1367 1037v27M1375 1037v27M1383 1037v27M1391 1037v27M1399 1037v27M1407 1037v27M1415 1037v27M1423 1037v27M1431 1037v27M1439 1037v27M1447 1037v27M1455 1037v27M1463 1037v27M1471 1037v27M1479 1037v27M1487 1037v27M1495 1037v27M1503 1037v27M1511 1037v27M1519 1037v27M1527 1037v27M1535 1037v27M1543 1037v27M1551 1037v27M1559 1037v27M1567 1037v27M1575 1037v27M1583 1037v27M1591 1037v27M1599 1037v27M1607 1037v27M1615 1037v27M1623 1037v27M1631 1037v27M1639 1037v27M1647 1037v27M1655 1037v27M1663 1037v27M1671 1037v27M1679 1037v27M1687 1037v27M1695 1037v27M1703 1037v27M1711 1037v27M1719 1037v27M1727 1037v27M1735 1037v27M1743 1037v27M1751 1037v27M1759 1037v27M1767 1037v27M1775 1037v27M1783 1037v27M1791 1037v27M1799 1037v27M1807 1037v27M1815 1037v27M1823 1037v27" stroke="#dcdcdc" stroke-width="1" fill="none" transform="translate(0.5,0)"/>
<rect x="3" y="1068" width="308" height="29" fill="#4279aa"/>
<rect x="312" y="1068" width="95" height="29" fill="#b22222"/>
<rect x="408" y="1068" width="103" height="29" fill="#4279aa"/>
<rect x="512" y="1068" width="71" height="29" fill="#b22222"/>
<rect x="584" y="1068" width="23" height="29" fill="#4279aa"/>
<rect x="608" y="1068" width="23" height="29" fill="#b22222"/>
<rect x="632" y="1068" width="47" height="29" fill="#4279aa"/>
<rect x="680" y="1068" width="63" height="29" fill="#b22222"/>
<rect x="744" y="1068" width="87" height="29" fill="#4279aa"/>
<rect x="832" y="1068" width="71" height="29" fill="#b22222"/>
<rect x="904" y="1068" width="23" height="29" fill="#4279aa"/>
<rect x="928" y="1068" width="135" height="29" fill="#b22222"/>
<rect x="1064" y="1068" width="39" height="29" fill="#4279aa"/>
<rect x="1104" y="1068" width="23" height="29" fill="#b22222"/>
<rect x="1128" y="1068" width="111" height="29" fill="#4279aa"/>
<rect x="1240" y="1068" width="55" height="29" fill="#b22222"/>
<rect x="1296" y="1068" width="119" height="29" fill="#4279aa"/>
<rect x="1416" y="1068" width="7" height="29" fill="#b22222"/>
<rect x="1424" y="1068" width="207" height="29" fill="#4279aa"/>
<rect x="1632" y="1068" width="143" height="29" fill="#b22222"/>
<rect x="1776" y="1068" width="15" height="29" fill="#4279aa"/>
<rect x="1792" y="1068" width="23" height="29" fill="#b22222"/>
<rect x="1816" y="1068" width="15" height="29" fill="#4279aa"/>
<path d="M7 1068v29M15 1068v29M23 1068v29M31 1068v29M39 1068v29M47 1068v29M55 1068v29M63 1068v29M71 1068v29M79 1068v29M87 1068v29M95 1068v29M103 1068v29M111 1068v29M119 1068v29M127 1068v29M135 1068v29M143 1068v29M151 1068v29M159 1068v29M167 1068v29M175 1068v29M183 1068v29M191 1068v29M199 1068v29M207 1068v29M215 1068v29M223 1068v29M231 1068v29M239 1068v29M247 1068v29M255 1068v29M263 1068v29M271 1068v29M279 1068v29M287 1068v29M295 1068v29M303 1068v29M311 1068v29M319 1068v29M327 1068v29M335 1068v29M343 1068v29M351 1068v29M359 1068v29M367 1068v29M375 1068v29M383 1068v29M391 1068v29M399 1068v29M407 1068v29M415 1068v29M423 1068v29M431 1068v29M439 1068v29M447 1068v29M455 1068v29M463 1068v29M471 1068v29M479 1068v29M487 1068v29M495 1068v29M503 1068v29M511 1068v29M519 1068v29M527 1068v29M535 1068v29M543 1068v29M551 1068v29M559 1068v29M567 1068v29M575 1068v29M583 1068v29M591 1068v29M599 1068v29M607 1068v29M615 1068v29M623 1068v29M631 1068v29M639 1068v29M647 1068v29M655 1068v29M663 1068v29M671 1068v29M679 1068v29M687 1068v29M695 1068v29M703 1068v29M711 1068v29M719 1068v29M727 1068v29M735 1068v29M743 1068v29M751 1068v29M759 1068v29M767 1068v29M775 1068v29M783 1068v29M791 1068v29M799 1068v29M807 1068v29M815 1068v29M823 1068v29M831 1068v29M839 1068v29M847 1068v29M855 1068v29M863 1068v29M871 1068v29M879 1068v29M887 1068v29M895 1068v29M903 1068v29M911 1068v29M919 1068v29M927 1068v29M935 1068v29M943 1068v29M951 1068v29M959 1068v29M967 1068v29M975 1068v29M983 1068v29M991 1068v29M999 1068v29M1007 1068v29M1015 1068v29M1023 1068v29M1031 1068v29M1039 1068v29M1047 1068v29M1055 1068v29M1063 1068v29M1071 1068v29M1079 1068v29M1087 1068v29M1095 1068v29M1103 1068v29M1111 1068v29M1119 1068v29M1127 1068v29M1135 1068v29M1143 1068v29M1151 1068v29M1159 1068v29M1167 1068v29M1175 1068v29M1183 1068v29M1191 1068v29M1199 1068v29M1207 1068v29M1215 1068v29M1223 1068v29M1231 1068v29M1239 1068v29M1247 1068v29M1255 1068v29M1263 1068v29M1271 1068v29M1279 1068v29M1287 1068v29M1295 1068v29M1303 1068v29M1311 1068v29M1319 1068v29M1327 1068v29M1335 1068v29M1343 1068v29M1351 1068v29M1359 1068v29M1367 1068v29M1375 1068v29M1383 1068v29M1391 1068v29M1399 1068v29M1407 1068v29M1415 1068v29M1423 1068v29M1431 1068v29M1439 1068v29M1447 1068v29M1455 1068v29M1463 1068v29M1471 1068v29M1479 1068v29M1487 1068v29M1495 1068v29M1503 1068v29M1511 1068v29M1519 1068v29M1527 1068v29M1535 1068v29M1543 1068v29M1551 1068v29M1559 1068v29M1567 1068v29M1575 1068v29M1583 1068v29M1591 1068v29M1599 1068v29M1607 1068v29M1615 1068v29M1623 1068v29M1631 1068v29M1639 1068v29M1647 1068v29M1655 1068v29M1663 1068v29M1671 1068v29M1679 1068v29M1687 1068v29M1695 1068v29M1703 1068v29M1711 1068v29M1719 1068v29M1727 1068v29M1735 1068v29M1743 1068v29M1751 1068v29M1759 1068v29M1767 1068v29M1775 1068v29M1783 1068v29M1791 1068v29M1799 1068v29M1807 1068v29M1815 1068v29M1823 1068v29" stroke="#dcdcdc" stroke-width="1" fill="none" transform="translate(0.5,0)"/>
<rect x="3" y="1105" width="379" height="6" fill="#4279aa"/>
<rect x="384" y="1105" width="46" height="6" fill="#b22222"/>
<rect x="432" y="1105" width="118" height="6" fill="#4279aa"/>
<rect x="552" y="1105" width="222" height="6" fill="#b22222"/>
<rect x="776" y="1105" width="54" height="6" fill="#4279aa"/>
<rect x="832" y="1105" width="494" height="6" fill="#b22222"/>
<rect x="1328" y="1105" width="502" height="6" fill="#4279aa"/>
<rect x="3" y="1111" width="355" height="6" fill="#4279aa"/>
<rect x="360" y="1111" width="94" height="6" fill="#b22222"/>
<rect x="456" y="1111" width="54" height="6" fill="#4279aa"/>
<rect x="512" y="1111" width="230" height="6" fill="#b22222"/>
<rect x="744" y="1111" width="86" height="6" fill="#4279aa"/>
<rect x="832" y="1111" width="70" height="6" fill="#b22222"/>
<rect x="904" y="1111" width="22" height="6" fill="#4279aa"/>
<rect x="928" y="1111" width="142" height="6" fill="#b22222"/>
<rect x="1072" y="1111" width="30" height="6" fill="#4279aa"/>
<rect x="1104" y="1111" width="190" height="6" fill="#b22222"/>
<rect x="1296" y="1111" width="350" height="6" fill="#4279aa"/>
<rect x="1648" y="1111" width="182" height="6" fill="#b22222"/>
<rect x="3" y="1118" width="299" height="6" fill="#4279aa"/>
<rect x="304" y="1118" width="110" height="6" fill="#b22222"/>
<rect x="416" y="1118" width="94" height="6" fill="#4279aa"/>
<rect x="512" y="1118" width="110" height="6" fill="#b22222"/>
<rect x="624" y="1118" width="54" height="6" fill="#4279aa"/>
<rect x="680" y="1118" width="54" height="6" fill="#b22222"/>
<rect x="736" y="1118" width="78" height="6" fill="#4279aa"/>
<rect x="816" y="1118" width="86" height="6" fill="#b22222"/>
<rect x="904" y="1118" width="22" height="6" fill="#4279aa"/>
<rect x="928" y="1118" width="134" height="6" fill="#b22222"/>
<rect x="1064" y="1118" width="38" height="6" fill="#4279aa"/>
<rect x="1104" y="1118" width="86" height="6" fill="#b22222"/>
<rect x="1192" y="1118" width="22" height="6" fill="#4279aa"/>
<rect x="1216" y="1118" width="78" height="6" fill="#b22222"/>
<rect x="1296" y="1118" width="110" height="6" fill="#4279aa"/>
<rect x="1408" y="1118" width="14" height="6" fill="#b22222"/>
<rect x="1424" y="1118" width="142" height="6" fill="#4279aa"/>
<rect x="1568" y="1118" width="22" height="6" fill="#b22222"/>
<rect x="1592" y="1118" width="30" height="6" fill="#4279aa"/>
<rect x="1624" y="1118" width="150" height="6" fill="#b22222"/>
<rect x="1776" y="1118" width="6" height="6" fill="#4279aa"/>
<rect x="1784" y="1118" width="30" height="6" fill="#b22222"/>
<rect x="1816" y="1118" width="14" height="6" fill="#4279aa"/>
<path d="M7 1105v19M15 1105v19M23 1105v19M31 1105v19M39 1105v19M47 1105v19M55 1105v19M63 1105v19M71 1105v19M79 1105v19M87 1105v19M95 1105v19M103 1105v19M111 1105v19M119 1105v19M127 1105v19M135 1105v19M143 1105v19M151 1105v19M159 1105v19M167 1105v19M175 1105v19M183 1105v19M191 1105v19M199 1105v19M207 1105v19M215 1105v19M223 1105v19M231 1105v19M239 1105v19M247 1105v19M255 1105v19M263 1105v19M271 1105v19M279 1105v19M287 1105v19M295 1105v19M303 1105v19M311 1105v19M319 1105v19M327 1105v19M335 1105v19M343 1105v19M351 1105v19M359 1105v19M367 1105v19M375 1105v19M383 1105v19M391 1105v19M399 1105v19M407 1105v19M415 1105v19M423 1105v19M431 1105v19M439 1105v19M447 1105v19M455 1105v19M463 1105v19M471 1105v19M479 1105v19M487 1105v19M495 1105v19M503 1105v19M511 1105v19M519 1105v19M527 1105v19M535 1105v19M543 1105v19M551 1105v19M559 1105v19M567 1105v19M575 1105v19M583 1105v19M591 1105v19M599 1105v19M607 1105v19M615 1105v19M623 1105v19M631 1105v19M639 1105v19M647 1105v19M655 1105v19M663 1105v19M671 1105v19M679 1105v19M687 1105v19M695 1105v19M703 1105v19M711 1105v19M719 1105v19M727 1105v19M735 1105v19M743 1105v19M751 1105v19M759 1105v19M767 1105v19M775 1105v19M783 1105v19M791 1105v19M799 1105v19M807 1105v19M815 1105v19M823 1105v19M831 1105v19M839 1105v19M847 1105v19M855 1105v19M863 1105v19M871 1105v19M879 1105v19M887 1105v19M895 1105v19M903 1105v19M911 1105v19M919 1105v19M927 1105v19M935 1105v19M943 1105v19M951 1105v19M959 1105v19M967 1105v19M975 1105v19M983 1105v19M991 1105v19M999 1105v19M1007 1105v19M1015 1105v19M1023 1105v19M1031 1105v19M1039 1105v19M1047 1105v19M1055 1105v19M1063 1105v19M1071 1105v19M1079 1105v19M1087 1105v19M1095 1105v19M1103 1105v19M1111 1105v19M1119 1105v19M1127 1105v19M1135 1105v19M1143 1105v19M1151 1105v19M1159 1105v19M1167 1105v19M1175 1105v19M1183 1105v19M1191 1105v19M1199 1105v19M1207 1105v19M1215 1105v19M1223 1105v19M1231 1105v19M1239 1105v19M1247 1105v19M1255 1105v19M1263 1105v19M1271 1105v19M1279 1105v19M1287 1105v19M1295 1105v19M1303 1105v19M1311 1105v19M1319 1105v19M1327 1105v19M1335 1105v19M1343 1105v19M1351 1105v19M1359 1105v19M1367 1105v19M1375 1105v19M1383 1105v19M1391 1105v19M1399 1105v19M1407 1105v19M1415 1105v19M1423 1105v19M1431 1105v19M1439 1105v19M1447 1105v19M1455 1105v19M1463 1105v19M1471 1105v19M1479 1105v19M1487 1105v19M1495 1105v19M1503 1105v19M1511 1105v19M1519 1105v19M1527 1105v19M1535 1105v19M1543 1105v19M1551 1105v19M1559 1105v19M1567 1105v19M1575 1105v19M1583 1105v19M1591 1105v19M1599 1105v19M1607 1105v19M1615 1105v19M1623 1105v19M1631 1105v19M1639 1105v19M1647 1105v19M1655 1105v19M1663 1105v19M1671 1105v19M1679 1105v19M1687 1105v19M1695 1105v19M1703 1105v19M1711 1105v19M1719 1105v19M1727 1105v19M1735 1105v19M1743 1105v19M1751 1105v19M1759 1105v19M1767 1105v19M1775 1105v19M1783 1105v19M1791 1105v19M1799 1105v19M1807 1105v19M1815 1105v19M1823 1105v19" stroke="#d6dcd6" stroke-width="2" fill="none"/>
<rect x="3" y="1117" width="1828" height="1" fill="#d3d3d3"/>
</g>
<g clip-path="url(#clipInd1)" fill="none" stroke-width="2.8" stroke-linejoin="round" stroke-linecap="butt">
<path d="M2.8 934.7C5.1 932.17 11.53 925.28 16.6 919.5C21.67 913.72 27.65 906.47 33.2 900C38.75 893.53 44.82 885.9 49.9 880.7C54.98 875.5 59.55 871.88 63.7 868.8C67.85 865.72 71.57 863.5 74.8 862.2C78.03 860.9 79.4 860.55 83.1 861" stroke="#4646ff"/>
<path d="M83.1 861C86.8 861.45 91.45 863.6 97 864.9C102.55 866.2 110.87 866.62 116.4 868.8C121.93 870.98 125.6 875.47 130.2 878C134.8 880.53 137.98 882.53 144 884C150.02 885.47 160.63 886.23 166.3 886.8C171.97 887.37 174.72 887.23 178 887.4" stroke="#dc143c"/>
<path d="M178 887.4C181.28 887.57 183.33 887.3 186 887.8" stroke="#4646ff"/>
<path d="M186 887.8C188.67 888.3 191.05 889.73 194 890.4C196.95 891.07 199.55 892.12 203.7 891.8" stroke="#dc143c"/>
<path d="M203.7 891.8C207.85 891.48 213.6 890.58 218.9 888.5C224.2 886.42 229.98 881.75 235.5 879.3C241.02 876.85 248.08 874.82 252 873.8C255.92 872.78 253.9 872.88 259 873.2" stroke="#4646ff"/>
<path d="M259 873.2C264.1 873.52 275.88 874.45 282.6 875.7C289.32 876.95 293.75 877.1 299.3 880.7C304.85 884.3 308.05 889.45 315.9 897.3C323.75 905.15 339.02 920.17 346.4 927.8C353.78 935.43 355.13 935.93 360.2 943.1C365.27 950.27 371.25 961.57 376.8 970.8C382.35 980.03 389.1 992.03 393.5 998.5C397.9 1004.97 399.97 1007.43 403.2 1009.6C406.43 1011.77 409.43 1011.97 412.9 1011.5" stroke="#dc143c"/>
<path d="M412.9 1011.5C416.37 1011.03 419.38 1009.88 424 1006.8C428.62 1003.72 434.6 998.55 440.6 993C446.6 987.45 453.53 981.13 460 973.5C466.47 965.87 473.4 954.82 479.4 947.2C485.4 939.58 491.4 932.33 496 927.8C500.6 923.27 503.3 920.23 507 920" stroke="#4646ff"/>
<path d="M507 920C510.7 919.77 514.03 923.48 518.2 926.4C522.37 929.32 527.03 934.5 532 937.5C536.97 940.5 542.78 940.7 548 944.4C553.22 948.1 557.98 953.78 563.3 959.7C568.62 965.62 574.37 975.52 579.9 979.9C585.43 984.28 591.1 984.2 596.5 986C601.9 987.8 607.22 990.7 612.3 990.7" stroke="#dc143c"/>
<path d="M612.3 990.7C617.38 990.7 621.78 988.87 627 986C632.22 983.13 638.07 977.67 643.6 973.5C649.13 969.33 655.03 963.75 660.2 961C665.37 958.25 669.05 955.93 674.6 957" stroke="#4646ff"/>
<path d="M674.6 957C680.15 958.07 687.6 964.4 693.5 967.4C699.4 970.4 704.92 972.97 710 975C715.08 977.03 719.37 979.38 724 979.6" stroke="#dc143c"/>
<path d="M724 979.6C728.63 979.82 732.73 980.07 737.8 976.3C742.87 972.53 748.87 963.72 754.4 957C759.93 950.28 765.9 941.78 771 936C776.1 930.22 780.37 925.52 785 922.3C789.63 919.08 794.43 918.25 798.8 916.7C803.17 915.15 807.75 913 811.2 913" stroke="#4646ff"/>
<path d="M811.2 913C814.65 913 815.57 913.53 819.5 916.7C823.43 919.87 830.4 926.68 834.8 932C839.2 937.32 841.98 942.7 845.9 948.6C849.82 954.5 854.83 963.1 858.3 967.4C861.77 971.7 863.68 972.47 866.7 974.4C869.72 976.33 870.85 979.28 876.4 979" stroke="#dc143c"/>
<path d="M876.4 979C881.95 978.72 894 975.92 900 972.7C906 969.48 908.48 963.82 912.4 959.7C916.32 955.58 920.27 950.32 923.5 948C926.73 945.68 928.12 944.08 931.8 945.8" stroke="#4646ff"/>
<path d="M931.8 945.8C935.48 947.52 941.45 953.22 945.6 958.3C949.75 963.38 953.47 971.22 956.7 976.3C959.93 981.38 961.78 985.18 965 988.8C968.22 992.42 970 994.53 976 998C982 1001.47 993.6 1005.83 1001 1009.6C1008.4 1013.37 1014.62 1017.93 1020.4 1020.6C1026.18 1023.27 1030.6 1025.7 1035.7 1025.6" stroke="#dc143c"/>
<path d="M1035.7 1025.6C1040.8 1025.5 1045.28 1024.1 1051 1020C1056.72 1015.9 1064.4 1008.1 1070 1001C1075.6 993.9 1079.73 983.87 1084.6 977.4C1089.47 970.93 1095.3 964.38 1099.2 962.2" stroke="#4646ff"/>
<path d="M1099.2 962.2C1103.1 960.02 1104.58 962 1108 964.3C1111.42 966.6 1115.7 972.98 1119.7 976C1123.7 979.02 1127.38 981.68 1132 982.4" stroke="#dc143c"/>
<path d="M1132 982.4C1136.62 983.12 1142.15 982.5 1147.4 980.3C1152.65 978.1 1158.4 972.35 1163.5 969.2C1168.6 966.05 1172.63 963.78 1178 961.4C1183.37 959.02 1190.08 956.77 1195.7 954.9C1201.32 953.03 1206.35 950.58 1211.7 950.2" stroke="#4646ff"/>
<path d="M1211.7 950.2C1217.05 949.82 1222.68 951.87 1227.8 952.6C1232.92 953.33 1237.53 952.17 1242.4 954.6C1247.27 957.03 1252.13 962.42 1257 967.2C1261.87 971.98 1266.97 978.18 1271.6 983.3C1276.23 988.42 1281.4 994.98 1284.8 997.9C1288.2 1000.82 1288.83 1001.78 1292 1000.8" stroke="#dc143c"/>
<path d="M1292 1000.8C1295.17 999.82 1298.92 996.87 1303.8 992C1308.68 987.13 1315.47 978.9 1321.3 971.6C1327.13 964.3 1333.18 955.27 1338.8 948.2C1344.42 941.13 1350.63 934.17 1355 929.2C1359.37 924.23 1361.37 921.32 1365 918.4C1368.63 915.48 1373.13 913.4 1376.8 911.7C1380.47 910 1383.1 908.35 1387 908.2" stroke="#4646ff"/>
<path d="M1387 908.2C1390.9 908.05 1396.3 909.25 1400.2 910.8C1404.1 912.35 1407.23 915.17 1410.4 917.5C1413.57 919.83 1416.43 923.23 1419.2 924.8C1421.97 926.37 1422.87 927.77 1427 926.9" stroke="#dc143c"/>
<path d="M1427 926.9C1431.13 926.03 1439.93 922.03 1444 919.6C1448.07 917.17 1448.47 914.02 1451.4 912.3C1454.33 910.58 1457.47 910.28 1461.6 909.3C1465.73 908.32 1471.82 908.68 1476.2 906.4C1480.58 904.12 1482.55 900.67 1487.9 895.6C1493.25 890.53 1501.97 881.5 1508.3 876C1514.63 870.5 1520.05 866.15 1525.9 862.6C1531.75 859.05 1538.55 856.37 1543.4 854.7C1548.25 853.03 1550.13 851.72 1555 852.6" stroke="#4646ff"/>
<path d="M1555 852.6C1559.87 853.48 1567.23 857.22 1572.6 860C1577.97 862.78 1581.83 866.3 1587.2 869.3C1592.57 872.3 1599.43 874.58 1604.8 878C1610.17 881.42 1614.53 885.4 1619.4 889.8C1624.27 894.2 1629.62 899.05 1634 904.4C1638.38 909.75 1641.8 915.57 1645.7 921.9C1649.6 928.23 1652.52 934.38 1657.4 942.4C1662.28 950.42 1669.43 962.8 1675 970C1680.57 977.2 1685.8 980.82 1690.8 985.6C1695.8 990.38 1700.8 995.17 1705 998.7C1709.2 1002.23 1713 1005 1716 1006.8C1719 1008.6 1720.33 1008.97 1723 1009.5C1725.67 1010.03 1728.67 1009.25 1732 1010C1735.33 1010.75 1739.38 1012.92 1743 1014C1746.62 1015.08 1750.12 1016.08 1753.7 1016.5C1757.28 1016.92 1760.62 1017.75 1764.5 1016.5" stroke="#dc143c"/>
<path d="M1764.5 1016.5C1768.38 1015.25 1773.08 1010.98 1777 1009C1780.92 1007.02 1783.78 1005.87 1788 1004.6C1792.22 1003.33 1798.13 1002.68 1802.3 1001.4C1806.47 1000.12 1808.8 999.97 1813 996.9C1817.2 993.83 1825.08 985.32 1827.5 983" stroke="#4646ff"/>
</g>
<g shape-rendering="crispEdges">
<rect x="2" y="2" width="2091" height="1" fill="#000"/>
<rect x="2" y="840" width="2091" height="1" fill="#000"/>
<rect x="2" y="2" width="1" height="839" fill="#000"/>
<rect x="2092" y="2" width="1" height="839" fill="#000"/>
<rect x="2" y="842" width="2091" height="1" fill="#000"/>
<rect x="2" y="1034" width="2091" height="1" fill="#000"/>
<rect x="2" y="842" width="1" height="193" fill="#000"/>
<rect x="2092" y="842" width="1" height="193" fill="#000"/>
<rect x="2" y="1036" width="2091" height="1" fill="#000"/>
<rect x="2" y="1065" width="2091" height="1" fill="#000"/>
<rect x="2" y="1036" width="1" height="30" fill="#000"/>
<rect x="2092" y="1036" width="1" height="30" fill="#000"/>
<rect x="2" y="1067" width="2091" height="1" fill="#000"/>
<rect x="2" y="1098" width="2091" height="1" fill="#000"/>
<rect x="2" y="1067" width="1" height="32" fill="#000"/>
<rect x="2092" y="1067" width="1" height="32" fill="#000"/>
<rect x="2" y="1100" width="2091" height="1" fill="#000"/>
<rect x="2" y="1128" width="2091" height="1" fill="#000"/>
<rect x="2" y="1100" width="1" height="29" fill="#000"/>
<rect x="2092" y="1100" width="1" height="29" fill="#000"/>
<rect x="2093" y="18" width="3" height="1" fill="#000"/>
<rect x="2093" y="84" width="3" height="1" fill="#000"/>
<rect x="2093" y="150" width="3" height="1" fill="#000"/>
<rect x="2093" y="215" width="3" height="1" fill="#000"/>
<rect x="2093" y="281" width="3" height="1" fill="#000"/>
<rect x="2093" y="346" width="3" height="1" fill="#000"/>
<rect x="2093" y="412" width="3" height="1" fill="#000"/>
<rect x="2093" y="477" width="3" height="1" fill="#000"/>
<rect x="2093" y="543" width="3" height="1" fill="#000"/>
<rect x="2093" y="608" width="3" height="1" fill="#000"/>
<rect x="2093" y="674" width="3" height="1" fill="#000"/>
<rect x="2093" y="740" width="3" height="1" fill="#000"/>
<rect x="2093" y="805" width="3" height="1" fill="#000"/>
<rect x="3" y="1129" width="1" height="3" fill="#000"/>
<rect x="131" y="1129" width="1" height="3" fill="#000"/>
<rect x="259" y="1129" width="1" height="3" fill="#000"/>
<rect x="387" y="1129" width="1" height="3" fill="#000"/>
<rect x="515" y="1129" width="1" height="3" fill="#000"/>
<rect x="643" y="1129" width="1" height="3" fill="#000"/>
<rect x="771" y="1129" width="1" height="3" fill="#000"/>
<rect x="899" y="1129" width="1" height="3" fill="#000"/>
<rect x="1027" y="1129" width="1" height="3" fill="#000"/>
<rect x="1155" y="1129" width="1" height="3" fill="#000"/>
<rect x="1283" y="1129" width="1" height="3" fill="#000"/>
<rect x="1411" y="1129" width="1" height="3" fill="#000"/>
<rect x="1539" y="1129" width="1" height="3" fill="#000"/>
<rect x="1667" y="1129" width="1" height="3" fill="#000"/>
<rect x="1795" y="1129" width="1" height="3" fill="#000"/>
<rect x="2093" y="844" width="2" height="1" fill="#000"/>
<rect x="2093" y="973" width="2" height="1" fill="#000"/>
<rect x="2093" y="1025" width="2" height="1" fill="#000"/>
<rect x="2093" y="1038" width="2" height="1" fill="#000"/>
<rect x="2093" y="1063" width="2" height="1" fill="#000"/>
<rect x="2093" y="1069" width="2" height="1" fill="#000"/>
<rect x="2093" y="1096" width="2" height="1" fill="#000"/>
<rect x="2093" y="1102" width="2" height="1" fill="#000"/>
<rect x="2093" y="1126" width="2" height="1" fill="#000"/>
</g>
<text x="2099" y="24.35" font-size="14" fill="#000">2428.5</text>
<text x="2099" y="89.9" font-size="14" fill="#000">2408.5</text>
<text x="2099" y="155.45" font-size="14" fill="#000">2388.5</text>
<text x="2099" y="221" font-size="14" fill="#000">2368.5</text>
<text x="2099" y="286.55" font-size="14" fill="#000">2348.5</text>
<text x="2099" y="352.1" font-size="14" fill="#000">2328.5</text>
<text x="2099" y="417.65" font-size="14" fill="#000">2308.5</text>
<text x="2099" y="483.2" font-size="14" fill="#000">2288.5</text>
<text x="2099" y="548.75" font-size="14" fill="#000">2268.5</text>
<text x="2099" y="614.3" font-size="14" fill="#000">2248.5</text>
<text x="2099" y="679.85" font-size="14" fill="#000">2228.5</text>
<text x="2099" y="745.4" font-size="14" fill="#000">2208.5</text>
<text x="2099" y="810.95" font-size="14" fill="#000">2188.5</text>
<rect x="2094" y="293" width="54" height="17" fill="#000" shape-rendering="crispEdges"/>
<text x="2099" y="307" font-size="14" fill="#fff">2342.2</text>
<text x="3" y="1146" font-size="14" fill="#000">12 Aug 2025</text>
<text x="131" y="1146" font-size="14" fill="#000">13 Aug 09:00</text>
<text x="259" y="1146" font-size="14" fill="#000">14 Aug 02:00</text>
<text x="387" y="1146" font-size="14" fill="#000">14 Aug 18:00</text>
<text x="515" y="1146" font-size="14" fill="#000">15 Aug 11:00</text>
<text x="643" y="1146" font-size="14" fill="#000">18 Aug 04:00</text>
<text x="771" y="1146" font-size="14" fill="#000">18 Aug 20:00</text>
<text x="899" y="1146" font-size="14" fill="#000">19 Aug 13:00</text>
<text x="1027" y="1146" font-size="14" fill="#000">20 Aug 06:00</text>
<text x="1155" y="1146" font-size="14" fill="#000">20 Aug 22:00</text>
<text x="1283" y="1146" font-size="14" fill="#000">21 Aug 15:00</text>
<text x="1411" y="1146" font-size="14" fill="#000">22 Aug 08:00</text>
<text x="1539" y="1146" font-size="14" fill="#000">25 Aug 01:00</text>
<text x="1667" y="1146" font-size="14" fill="#000">25 Aug 17:00</text>
<text x="1795" y="1146" font-size="14" fill="#000">26 Aug 10:00</text>
<text x="2096" y="858" font-size="14" fill="#000">0</text>
<rect x="2095" y="965" width="10" height="16" fill="#000" shape-rendering="crispEdges"/>
<text x="2096" y="978" font-size="14" fill="#fff">0</text>
<text x="2096" y="1029.6" font-size="14" fill="#000">0</text>
<text x="2096" y="1051.8" font-size="14" fill="#000">0</text>
<text x="2096" y="1061" font-size="14" fill="#000">0</text>
<text x="2096" y="1082.6" font-size="14" fill="#000">0</text>
<text x="2096" y="1094" font-size="14" fill="#000">0</text>
<text x="2096" y="1115.6" font-size="14" fill="#000">0</text>
<text x="2096" y="1123.8" font-size="14" fill="#000">0</text>
<g shape-rendering="crispEdges">
<rect x="1739" y="9" width="353" height="2" fill="#008b8b"/>
<rect x="1739" y="45" width="353" height="2" fill="#008b8b"/>
</g>
<line x1="1739" y1="79.5" x2="2092" y2="79.5" stroke="#008b8b" stroke-width="1" stroke-dasharray="4 4"/>
<g shape-rendering="crispEdges">
<rect x="1819" y="193" width="113" height="2" fill="#fff"/>
<rect x="1819" y="577" width="113" height="2" fill="#fff"/>
</g>
<line x1="1819" y1="199.5" x2="1931" y2="199.5" stroke="#fff" stroke-width="1.2" stroke-dasharray="17.6 6.5"/>
<line x1="1834" y1="299.5" x2="2092" y2="299.5" stroke="#fff" stroke-width="1.2" stroke-dasharray="12 6"/>
<text x="1936" y="199.1" font-size="16.3" fill="#f2f4f8">PWH</text>
<text x="1937" y="204.9" font-size="16.3" fill="#f2f4f8">PDH</text>
<text x="1938.8" y="304.9" font-size="16.3" fill="#eef1f6">PDL</text>
<text x="1937.4" y="583.8" font-size="16.3" fill="#f2f4f8">PWL</text>
<text x="1922" y="58.5" font-size="28" fill="#000">0.6</text>
<text x="1964" y="49.5" font-size="17.5" fill="#000">ASK</text>
<text x="2076.5" y="45.5" font-size="19.6" fill="#707070" text-anchor="end">2343.0</text>
<text x="1970" y="67.3" font-size="17.5" fill="#000">BID</text>
<text x="2076.5" y="64.3" font-size="19.6" fill="#000" text-anchor="end">2342.2</text>
<line x1="1876" y1="71.8" x2="2078" y2="71.8" stroke="#000" stroke-width="2.6" stroke-dasharray="4.6 1.4"/>
<text x="2028.5" y="86" font-size="17.8" fill="#000" text-anchor="end">spread</text>
<text x="2036.8" y="86" font-size="17.5" fill="#000" text-anchor="end">:</text>
<text x="2076.5" y="86" font-size="17.5" fill="#7cfc00" text-anchor="end">8.0</text>
<line x1="1876" y1="92" x2="2078" y2="92" stroke="#000" stroke-width="2.6" stroke-dasharray="4.6 1.4"/>
<text x="2025" y="106" font-size="17.9" fill="#000" text-anchor="end">2351.2000</text>
<text x="1984" y="106" font-size="17.5" fill="#000" text-anchor="end">HOD</text>
<text x="2036.3" y="105" font-size="17.5" fill="#000" text-anchor="end">:</text>
<text x="2076.5" y="106" font-size="17.5" fill="#000" text-anchor="end">90</text>
<text x="2025" y="118.4" font-size="17.9" fill="#000" text-anchor="end">2330.9000</text>
<text x="1984" y="118.4" font-size="17.5" fill="#000" text-anchor="end">LOD</text>
<text x="2036.3" y="117.4" font-size="17.5" fill="#000" text-anchor="end">:</text>
<text x="2076.5" y="118.4" font-size="17.5" fill="#000" text-anchor="end">113</text>
<text x="2027" y="134.6" font-size="17.7" fill="#000" text-anchor="end">TDR</text>
<text x="2036.3" y="133.6" font-size="17.5" fill="#000" text-anchor="end">:</text>
<text x="2076.5" y="131.5" font-size="17.5" fill="#000" text-anchor="end">203</text>
<text x="2027" y="152" font-size="17.7" fill="#000" text-anchor="end">YDR</text>
<text x="2036.3" y="151" font-size="17.5" fill="#000" text-anchor="end">:</text>
<text x="2076.5" y="152" font-size="17.5" fill="#000" text-anchor="end">305</text>
<text x="2027" y="163.6" font-size="17.7" fill="#000" text-anchor="end">WADR</text>
<text x="2036.3" y="162.6" font-size="17.5" fill="#000" text-anchor="end">:</text>
<text x="2076.5" y="163.6" font-size="17.5" fill="#000" text-anchor="end">409</text>
<text x="2027" y="177.6" font-size="17.7" fill="#000" text-anchor="end">MADR</text>
<text x="2036.3" y="176.6" font-size="17.5" fill="#000" text-anchor="end">:</text>
<text x="2076.5" y="177.6" font-size="17.5" fill="#000" text-anchor="end">411</text>
<text x="2027" y="190" font-size="17.7" fill="#000" text-anchor="end">HYADR</text>
<text x="2036.3" y="189" font-size="17.5" fill="#000" text-anchor="end">:</text>
<text x="2076.5" y="190" font-size="17.5" fill="#000" text-anchor="end">489</text>
<text x="2027" y="208" font-size="17.7" fill="#000" text-anchor="end">PTO</text>
<text x="2036.3" y="207" font-size="17.5" fill="#000" text-anchor="end">:</text>
<text x="2076.5" y="208" font-size="17.5" fill="#000" text-anchor="end">-38</text>
<text x="2025" y="224.4" font-size="17.9" fill="#000" text-anchor="end">2373.3000</text>
<text x="1986" y="224.4" font-size="17.5" fill="#000" text-anchor="end">WH</text>
<text x="2036.3" y="223.4" font-size="17.5" fill="#000" text-anchor="end">:</text>
<text x="2076.5" y="224.4" font-size="17.5" fill="#000" text-anchor="end">311</text>
<text x="2025" y="239.3" font-size="17.9" fill="#000" text-anchor="end">2330.9000</text>
<text x="1986" y="239.3" font-size="17.5" fill="#000" text-anchor="end">WL</text>
<text x="2036.3" y="238.3" font-size="17.5" fill="#000" text-anchor="end">:</text>
<text x="2076.5" y="239.3" font-size="17.5" fill="#000" text-anchor="end">113</text>
<text x="2027" y="255" font-size="17.7" fill="#000" text-anchor="end">WR</text>
<text x="2036.3" y="254" font-size="17.5" fill="#000" text-anchor="end">:</text>
<text x="2076.5" y="252.4" font-size="17.5" fill="#000" text-anchor="end">424</text>
<text x="2027" y="270.5" font-size="17.7" fill="#000" text-anchor="end">MWR</text>
<text x="2036.3" y="269.5" font-size="17.5" fill="#000" text-anchor="end">:</text>
<text x="2076.5" y="270.5" font-size="17.5" fill="#000" text-anchor="end">0</text>
<text x="2027" y="285" font-size="17.7" fill="#000" text-anchor="end">3MWR</text>
<text x="2036.3" y="284" font-size="17.5" fill="#000" text-anchor="end">:</text>
<text x="2076.5" y="285" font-size="17.5" fill="#000" text-anchor="end">0</text>
<text x="2027" y="297.6" font-size="17.7" fill="#000" text-anchor="end">6MWR</text>
<text x="2036.3" y="296.6" font-size="17.5" fill="#000" text-anchor="end">:</text>
<text x="2076.5" y="297.6" font-size="17.5" fill="#000" text-anchor="end">0</text>
<text x="2027" y="314" font-size="17.7" fill="#000" text-anchor="end">3xADR</text>
<text x="2036.3" y="313" font-size="17.5" fill="#000" text-anchor="end">:</text>
<text x="2076.5" y="314" font-size="17.5" fill="#000" text-anchor="end">0</text>
<line x1="1876" y1="195" x2="2078" y2="195" stroke="#000" stroke-width="2.6" stroke-dasharray="4.6 1.4"/>
<line x1="1876" y1="211.3" x2="2078" y2="211.3" stroke="#000" stroke-width="2.6" stroke-dasharray="4.6 1.4"/>
<line x1="1876" y1="300.7" x2="2078" y2="300.7" stroke="#000" stroke-width="2.6" stroke-dasharray="4.6 1.4"/>
<line x1="1876" y1="318.8" x2="2078" y2="318.8" stroke="#000" stroke-width="2.6" stroke-dasharray="4.6 1.4"/>
<text x="1935" y="336.5" font-size="18.2" fill="#000">Candle Time</text>
<text x="2076.5" y="336.5" font-size="17.5" fill="#000" text-anchor="end">19:09</text>
<rect x="1988.5" y="597.5" width="94" height="194" fill="#919191" stroke="#828282" stroke-width="1"/>
<text x="0" y="0" font-size="27" font-weight="bold" fill="#000" stroke="#000" stroke-width="1.7" transform="translate(1992.500 625.300) scale(0.85 1.03)" textLength="94" lengthAdjust="spacingAndGlyphs">US2000</text>
<text x="2080" y="649.5" font-size="19" fill="#6e6e6e" text-anchor="end" stroke="#6e6e6e" stroke-width="0.35">OpenPips</text>
<text x="0" y="0" font-size="30" fill="#ececec" stroke="#ececec" stroke-width="0.9" text-anchor="end" transform="translate(2077 679) scale(0.8 1)">0.00</text>
<text x="2079" y="705.5" font-size="19" fill="#6e6e6e" text-anchor="end" stroke="#6e6e6e" stroke-width="0.35">OpenPos</text>
<text x="0" y="0" font-size="22" fill="#ececec" stroke="#ececec" stroke-width="0.5" text-anchor="end" transform="translate(2079 730.5) scale(0.9 1)">0.00%</text>
<text x="2077" y="755.5" font-size="19" fill="#6e6e6e" text-anchor="end" stroke="#6e6e6e" stroke-width="0.35">Daily P/L</text>
<text x="0" y="0" font-size="22" fill="#ececec" stroke="#ececec" stroke-width="0.5" text-anchor="end" transform="translate(2079 780.5) scale(0.9 1)">0.00%</text>
<rect x="2060" y="794.5" width="9.5" height="9.5" fill="#7e7e7e" rx="1.5"/>
<rect x="2072" y="794.5" width="9.5" height="9.5" fill="#7e7e7e" rx="1.5"/>
<text x="1971" y="829" font-size="10" fill="#fff" font-weight="bold">w</text>
<rect x="1982.5" y="810.5" width="49" height="19" fill="#f5f5f5" stroke="#404040" stroke-width="1"/>
<text x="2007" y="827" font-size="20" fill="#000" text-anchor="middle">New</text>
<rect x="2037.5" y="810.5" width="49" height="19" fill="#f5f5f5" stroke="#404040" stroke-width="1"/>
<text x="2062" y="827" font-size="20" fill="#000" text-anchor="middle">Del</text>
<rect x="33.5" y="148.5" width="89" height="20.5" fill="#f5f5f5" stroke="#9a9aa4" stroke-width="1"/>
<text x="78" y="165.2" font-size="18.4" fill="#0c0c30" text-anchor="middle">CADJPY</text>
<rect x="33.5" y="171.5" width="89" height="20.5" fill="#f5f5f5" stroke="#9a9aa4" stroke-width="1"/>
<text x="78" y="188.2" font-size="18.4" fill="#0c0c30" text-anchor="middle">EURAUD</text>
<rect x="33.5" y="194.5" width="89" height="20.5" fill="#f5f5f5" stroke="#9a9aa4" stroke-width="1"/>
<text x="78" y="211.2" font-size="18.4" fill="#0c0c30" text-anchor="middle">EURNZD</text>
<rect x="33.5" y="217.5" width="89" height="20.5" fill="#f5f5f5" stroke="#9a9aa4" stroke-width="1"/>
<text x="78" y="234.2" font-size="18.4" fill="#0c0c30" text-anchor="middle">EURJPY</text>
<rect x="33.5" y="240.5" width="89" height="20.5" fill="#f5f5f5" stroke="#9a9aa4" stroke-width="1"/>
<text x="78" y="257.2" font-size="18.4" fill="#0c0c30" text-anchor="middle">EURUSD</text>
<rect x="33.5" y="263.5" width="89" height="20.5" fill="#f5f5f5" stroke="#9a9aa4" stroke-width="1"/>
<text x="78" y="280.2" font-size="18.4" fill="#0c0c30" text-anchor="middle">GBPAUD</text>
<rect x="33.5" y="286.5" width="89" height="20.5" fill="#f5f5f5" stroke="#9a9aa4" stroke-width="1"/>
<text x="78" y="303.2" font-size="18.4" fill="#0c0c30" text-anchor="middle">GBPNZD</text>
<rect x="33.5" y="309.5" width="89" height="20.5" fill="#f5f5f5" stroke="#9a9aa4" stroke-width="1"/>
<text x="78" y="326.2" font-size="18.4" fill="#0c0c30" text-anchor="middle">GBPCAD</text>
<rect x="33.5" y="332.5" width="89" height="20.5" fill="#f5f5f5" stroke="#9a9aa4" stroke-width="1"/>
<text x="78" y="349.2" font-size="18.4" fill="#0c0c30" text-anchor="middle">GBPUSD</text>
<rect x="33.5" y="355.5" width="89" height="20.5" fill="#f5f5f5" stroke="#9a9aa4" stroke-width="1"/>
<text x="78" y="372.2" font-size="18.4" fill="#0c0c30" text-anchor="middle">GBPJPY</text>
<rect x="33.5" y="378.5" width="89" height="20.5" fill="#f5f5f5" stroke="#9a9aa4" stroke-width="1"/>
<text x="78" y="395.2" font-size="18.4" fill="#0c0c30" text-anchor="middle">USDCAD</text>
<rect x="33.5" y="401.5" width="89" height="20.5" fill="#f5f5f5" stroke="#9a9aa4" stroke-width="1"/>
<text x="78" y="418.2" font-size="18.4" fill="#0c0c30" text-anchor="middle">USDJPY</text>
<rect x="33.5" y="424.5" width="89" height="20.5" fill="#f5f5f5" stroke="#9a9aa4" stroke-width="1"/>
<text x="78" y="441.2" font-size="18.4" fill="#0c0c30" text-anchor="middle">US30</text>
<rect x="33.5" y="447.5" width="89" height="20.5" fill="#f5f5f5" stroke="#9a9aa4" stroke-width="1"/>
<text x="78" y="464.2" font-size="18.4" fill="#0c0c30" text-anchor="middle">NDX100</text>
<rect x="33.5" y="470.5" width="89" height="20.5" fill="#f5f5f5" stroke="#9a9aa4" stroke-width="1"/>
<text x="78" y="487.2" font-size="18.4" fill="#0c0c30" text-anchor="middle">SPX500</text>
<rect x="33.5" y="493.5" width="89" height="20.5" fill="#b0c4de" stroke="#98a8c8" stroke-width="1"/>
<text x="78" y="510.2" font-size="18.4" fill="#fff" text-anchor="middle">US2000</text>
<rect x="33.5" y="516.5" width="89" height="20.5" fill="#f5f5f5" stroke="#9a9aa4" stroke-width="1"/>
<text x="78" y="533.2" font-size="18.4" fill="#0c0c30" text-anchor="middle">XAUUSD</text>
<rect x="33.5" y="539.5" width="89" height="20.5" fill="#f5f5f5" stroke="#9a9aa4" stroke-width="1"/>
<text x="78" y="556.2" font-size="18.4" fill="#0c0c30" text-anchor="middle">BTCUSD</text>
<rect x="33.5" y="562.5" width="89" height="20.5" fill="#f5f5f5" stroke="#9a9aa4" stroke-width="1"/>
<text x="78" y="579.2" font-size="18.4" fill="#0c0c30" text-anchor="middle">DOGUSD</text>
<rect x="33.5" y="585.5" width="89" height="20.5" fill="#f5f5f5" stroke="#9a9aa4" stroke-width="1"/>
<text x="78" y="602.2" font-size="18.4" fill="#0c0c30" text-anchor="middle">XAGUSD</text>
<rect x="33.5" y="608.5" width="89" height="20.5" fill="#f5f5f5" stroke="#9a9aa4" stroke-width="1"/>
<text x="78" y="625.2" font-size="18.4" fill="#0c0c30" text-anchor="middle">USOUSD</text>
<rect x="13.5" y="730.5" width="59" height="24" fill="#4682b4" stroke="#c4c4c4" stroke-width="1"/>
<text x="41.7" y="748.3" font-size="17.5" fill="#fff" text-anchor="middle">W1</text>
<rect x="73.5" y="730.5" width="89" height="24" fill="#008000" stroke="#c4c4c4" stroke-width="1"/>
<text x="116.7" y="748.3" font-size="17.5" fill="#fff" text-anchor="middle">BOS</text>
<rect x="163.5" y="730.5" width="89" height="24" fill="#008000" stroke="#c4c4c4" stroke-width="1"/>
<text x="206.7" y="748.3" font-size="17.5" fill="#fff" text-anchor="middle">iCHoCH</text>
<rect x="13.5" y="755.5" width="59" height="24" fill="#4682b4" stroke="#c4c4c4" stroke-width="1"/>
<text x="41.7" y="773.3" font-size="17.5" fill="#fff" text-anchor="middle">D1</text>
<rect x="73.5" y="755.5" width="89" height="24" fill="#ff0000" stroke="#c4c4c4" stroke-width="1"/>
<text x="116.7" y="773.3" font-size="17.5" fill="#fff" text-anchor="middle">CHoCH</text>
<rect x="163.5" y="755.5" width="89" height="24" fill="#008000" stroke="#c4c4c4" stroke-width="1"/>
<text x="206.7" y="773.3" font-size="17.5" fill="#fff" text-anchor="middle">iCHoCH</text>
<rect x="13.5" y="780.5" width="59" height="24" fill="#4682b4" stroke="#c4c4c4" stroke-width="1"/>
<text x="41.7" y="798.3" font-size="17.5" fill="#fff" text-anchor="middle">H4</text>
<rect x="73.5" y="780.5" width="89" height="24" fill="#008000" stroke="#c4c4c4" stroke-width="1"/>
<text x="116.7" y="798.3" font-size="17.5" fill="#fff" text-anchor="middle">BOS(+3)</text>
<rect x="163.5" y="780.5" width="89" height="24" fill="#ff0000" stroke="#c4c4c4" stroke-width="1"/>
<text x="206.7" y="798.3" font-size="17.5" fill="#fff" text-anchor="middle">iBOS(+2)</text>
<rect x="13.5" y="805.5" width="59" height="24" fill="#4682b4" stroke="#c4c4c4" stroke-width="1"/>
<text x="41.7" y="823.3" font-size="17.5" fill="#fff" text-anchor="middle">H1</text>
<rect x="73.5" y="805.5" width="89" height="24" fill="#008000" stroke="#c4c4c4" stroke-width="1"/>
<text x="116.7" y="823.3" font-size="17.5" fill="#fff" text-anchor="middle">BOS</text>
<rect x="163.5" y="805.5" width="89" height="24" fill="#008000" stroke="#c4c4c4" stroke-width="1"/>
<text x="206.7" y="823.3" font-size="17.5" fill="#fff" text-anchor="middle">iBOS</text>
<path d="M6 16L11.500 10L17 16Z" fill="#000"/>
<text x="23.7" y="18.7" font-size="13.5" fill="#000">US2000,H1</text>
<rect x="23" y="19" width="39" height="11" fill="#b0c4de"/>
<rect x="23" y="19" width="39" height="1" fill="#e8eef6"/>
<rect x="23" y="19" width="1" height="11" fill="#e8eef6"/>
<clipPath id="clipHide"><rect x="23" y="19" width="39" height="11"/></clipPath>
<text x="25.5" y="35.5" font-size="16.5" fill="#f4f7fc" clip-path="url(#clipHide)">Hide</text>
<rect x="6" y="30" width="315" height="89" fill="#d0d0d0"/>
<rect x="6" y="30" width="76" height="33" fill="url(#gTop)"/>
<rect x="245" y="30" width="76" height="33" fill="url(#gTop)"/>
<rect x="6" y="62" width="157" height="57" fill="url(#gBot)"/>
<rect x="165" y="62" width="156" height="57" fill="url(#gBot)"/>
<rect x="10" y="61" width="68" height="1" fill="#7878f8"/>
<rect x="249" y="61" width="68" height="1" fill="#7878f8"/>
<rect x="82" y="62" width="1" height="0" fill="#000"/>
<rect x="84.5" y="30.5" width="158" height="28.5" fill="#fff" stroke="#c8c8c8" stroke-width="1"/>
<rect x="85" y="31" width="28" height="28" fill="#fafafa"/>
<rect x="214" y="31" width="28" height="28" fill="#fafafa"/>
<rect x="113" y="31" width="1" height="28" fill="#c8c8c8"/>
<rect x="213" y="31" width="1" height="28" fill="#c8c8c8"/>
<path d="M94 42h10l-5 6z" fill="#000"/>
<path d="M223 47h10l-5 -6z" fill="#000"/>
<text x="206.5" y="52" font-size="17" fill="#000" text-anchor="end">0.05</text>
<text x="26.3" y="52.8" font-size="17" fill="#fff" textLength="34.5" lengthAdjust="spacingAndGlyphs">SELL</text>
<text x="267" y="52.8" font-size="17" fill="#fff" textLength="28.6" lengthAdjust="spacingAndGlyphs">BUY</text>
<text x="78" y="107" font-size="17.5" fill="#fff" text-anchor="end" font-weight="bold">2342</text>
<text x="82.8" y="107" font-size="45" fill="#fff">.</text>
<text x="94" y="107" font-size="45" fill="#fff">2</text>
<text x="236" y="107" font-size="17.5" fill="#fff" text-anchor="end" font-weight="bold">2343</text>
<text x="241.2" y="107" font-size="45" fill="#fff">.</text>
<text x="252.5" y="107" font-size="45" fill="#fff">0</text>
</svg></body></html>
